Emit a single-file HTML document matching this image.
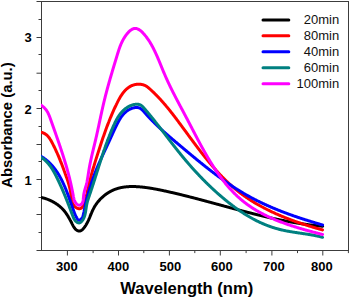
<!DOCTYPE html>
<html><head><meta charset="utf-8">
<style>
html,body{margin:0;padding:0;background:#fff;}
body{width:350px;height:298px;overflow:hidden;}
svg{display:block;}
text{font-family:"Liberation Sans",sans-serif;}
.tl{font-size:13px;font-weight:bold;fill:#000;}
.lg{font-size:13px;fill:#111;}
</style></head><body>
<svg width="350" height="298" viewBox="0 0 350 298">
<defs><clipPath id="pc"><rect x="41" y="0" width="308" height="298"/></clipPath></defs>
<rect x="41.5" y="1.5" width="307.0" height="249.0" fill="none" stroke="#3c3c3c" stroke-width="1"/>
<g stroke="#3c3c3c" stroke-width="1">
<line x1="38.50" y1="19.50" x2="41.50" y2="19.50"/>
<line x1="36.50" y1="37.50" x2="41.50" y2="37.50"/>
<line x1="38.50" y1="54.50" x2="41.50" y2="54.50"/>
<line x1="36.50" y1="73.20" x2="41.50" y2="73.20"/>
<line x1="38.50" y1="90.50" x2="41.50" y2="90.50"/>
<line x1="36.50" y1="108.50" x2="41.50" y2="108.50"/>
<line x1="38.50" y1="126.50" x2="41.50" y2="126.50"/>
<line x1="36.50" y1="144.50" x2="41.50" y2="144.50"/>
<line x1="38.50" y1="161.50" x2="41.50" y2="161.50"/>
<line x1="36.50" y1="179.50" x2="41.50" y2="179.50"/>
<line x1="38.50" y1="197.50" x2="41.50" y2="197.50"/>
<line x1="36.50" y1="214.50" x2="41.50" y2="214.50"/>
<line x1="38.50" y1="232.50" x2="41.50" y2="232.50"/>
<line x1="36.50" y1="250.50" x2="41.50" y2="250.50"/>
<line x1="36.50" y1="1.5" x2="41.50" y2="1.5"/>
<line x1="67.40" y1="250.50" x2="67.40" y2="255.50"/>
<line x1="93.10" y1="250.50" x2="93.10" y2="253.10"/>
<line x1="118.50" y1="250.50" x2="118.50" y2="255.50"/>
<line x1="143.80" y1="250.50" x2="143.80" y2="253.10"/>
<line x1="169.40" y1="250.50" x2="169.40" y2="255.50"/>
<line x1="194.80" y1="250.50" x2="194.80" y2="253.10"/>
<line x1="220.30" y1="250.50" x2="220.30" y2="255.50"/>
<line x1="246.10" y1="250.50" x2="246.10" y2="253.10"/>
<line x1="271.90" y1="250.50" x2="271.90" y2="255.50"/>
<line x1="297.50" y1="250.50" x2="297.50" y2="253.10"/>
<line x1="322.80" y1="250.50" x2="322.80" y2="255.50"/>
<line x1="348.40" y1="250.50" x2="348.40" y2="253.10"/>
</g>
<g fill="none" stroke-width="3.0" stroke-linejoin="round" stroke-linecap="round" clip-path="url(#pc)">
<path d="M40.66,197.41 L40.98,197.46 L41.29,197.51 L41.61,197.57 L41.93,197.64 L42.25,197.71 L42.58,197.78 L42.90,197.86 L43.23,197.94 L43.56,198.02 L43.89,198.11 L44.22,198.20 L44.55,198.30 L44.88,198.40 L45.22,198.50 L45.56,198.61 L45.89,198.72 L46.23,198.83 L46.57,198.95 L46.90,199.07 L47.24,199.20 L47.58,199.32 L47.92,199.46 L48.26,199.59 L48.60,199.73 L48.94,199.87 L49.28,200.02 L49.62,200.16 L49.96,200.31 L50.29,200.47 L50.63,200.63 L50.97,200.79 L51.30,200.95 L51.64,201.12 L51.97,201.29 L52.31,201.46 L52.64,201.63 L52.97,201.81 L53.30,201.99 L53.63,202.17 L53.95,202.36 L54.28,202.55 L54.60,202.74 L54.92,202.93 L55.24,203.13 L55.56,203.33 L55.87,203.53 L56.19,203.73 L56.50,203.94 L56.81,204.15 L57.11,204.36 L57.41,204.57 L57.71,204.79 L58.01,205.00 L58.30,205.22 L58.60,205.44 L58.88,205.67 L59.17,205.89 L59.45,206.12 L59.73,206.35 L60.00,206.58 L60.27,206.81 L60.54,207.05 L60.80,207.28 L61.06,207.52 L61.32,207.76 L61.57,208.01 L61.82,208.25 L62.07,208.49 L62.31,208.74 L62.55,208.99 L62.79,209.24 L63.02,209.50 L63.25,209.75 L63.48,210.01 L63.70,210.27 L63.93,210.53 L64.15,210.79 L64.36,211.05 L64.58,211.32 L64.79,211.58 L65.00,211.85 L65.21,212.12 L65.41,212.40 L65.61,212.67 L65.81,212.95 L66.01,213.23 L66.21,213.51 L66.41,213.79 L66.60,214.07 L66.79,214.36 L66.98,214.64 L67.17,214.93 L67.35,215.22 L67.54,215.52 L67.72,215.81 L67.91,216.11 L68.09,216.40 L68.27,216.70 L68.45,217.01 L68.62,217.31 L68.80,217.61 L68.98,217.92 L69.15,218.23 L69.33,218.54 L69.50,218.85 L69.68,219.17 L69.85,219.48 L70.02,219.80 L70.19,220.12 L70.37,220.44 L70.54,220.77 L70.71,221.09 L70.88,221.42 L71.05,221.75 L71.22,222.08 L71.40,222.41 L71.57,222.74 L71.74,223.08 L71.91,223.42 L72.08,223.76 L72.26,224.10 L72.43,224.44 L72.61,224.78 L72.79,225.13 L72.96,225.47 L73.15,225.81 L73.33,226.14 L73.52,226.47 L73.72,226.80 L73.92,227.13 L74.12,227.44 L74.33,227.75 L74.54,228.05 L74.77,228.34 L75.00,228.63 L75.23,228.90 L75.48,229.16 L75.73,229.41 L76.00,229.65 L76.27,229.87 L76.56,230.08 L76.85,230.27 L77.15,230.45 L77.47,230.60 L77.79,230.74 L78.12,230.85 L78.44,230.94 L78.77,231.01 L79.10,231.04 L79.42,231.04 L79.74,231.01 L80.05,230.96 L80.36,230.87 L80.66,230.76 L80.96,230.62 L81.25,230.46 L81.53,230.28 L81.81,230.08 L82.09,229.86 L82.36,229.62 L82.63,229.38 L82.89,229.12 L83.14,228.85 L83.39,228.56 L83.64,228.28 L83.87,227.98 L84.11,227.69 L84.34,227.39 L84.56,227.09 L84.78,226.79 L85.00,226.48 L85.21,226.18 L85.41,225.87 L85.62,225.56 L85.81,225.25 L86.01,224.94 L86.20,224.63 L86.38,224.31 L86.56,224.00 L86.74,223.68 L86.92,223.36 L87.09,223.05 L87.26,222.73 L87.42,222.41 L87.59,222.08 L87.75,221.76 L87.91,221.44 L88.06,221.11 L88.21,220.79 L88.36,220.46 L88.51,220.14 L88.66,219.81 L88.80,219.48 L88.95,219.15 L89.09,218.83 L89.23,218.50 L89.37,218.17 L89.51,217.84 L89.64,217.51 L89.78,217.18 L89.92,216.85 L90.05,216.52 L90.19,216.19 L90.32,215.86 L90.45,215.53 L90.59,215.20 L90.72,214.87 L90.85,214.54 L90.99,214.21 L91.12,213.88 L91.26,213.55 L91.40,213.22 L91.53,212.89 L91.67,212.57 L91.81,212.24 L91.95,211.91 L92.09,211.59 L92.24,211.26 L92.38,210.94 L92.53,210.62 L92.68,210.29 L92.83,209.97 L92.98,209.65 L93.14,209.33 L93.29,209.01 L93.45,208.70 L93.62,208.38 L93.78,208.06 L93.95,207.75 L94.12,207.44 L94.30,207.13 L94.48,206.82 L94.66,206.51 L94.84,206.20 L95.03,205.90 L95.22,205.59 L95.42,205.29 L95.61,204.99 L95.81,204.69 L96.02,204.39 L96.22,204.09 L96.43,203.80 L96.64,203.51 L96.86,203.22 L97.07,202.93 L97.29,202.64 L97.52,202.35 L97.74,202.07 L97.97,201.79 L98.20,201.51 L98.43,201.23 L98.67,200.95 L98.91,200.68 L99.15,200.40 L99.39,200.13 L99.64,199.86 L99.89,199.60 L100.14,199.33 L100.39,199.07 L100.65,198.81 L100.90,198.55 L101.16,198.29 L101.43,198.04 L101.69,197.79 L101.96,197.54 L102.23,197.29 L102.50,197.05 L102.77,196.80 L103.05,196.56 L103.32,196.32 L103.60,196.09 L103.89,195.86 L104.17,195.63 L104.45,195.40 L104.74,195.17 L105.03,194.95 L105.32,194.73 L105.61,194.51 L105.91,194.30 L106.21,194.08 L106.50,193.87 L106.80,193.67 L107.10,193.46 L107.41,193.26 L107.71,193.06 L108.02,192.86 L108.33,192.67 L108.64,192.48 L108.95,192.29 L109.26,192.11 L109.57,191.93 L109.89,191.75 L110.20,191.57 L110.52,191.40 L110.84,191.23 L111.16,191.06 L111.48,190.90 L111.81,190.74 L112.13,190.58 L112.46,190.43 L112.78,190.28 L113.11,190.13 L113.44,189.99 L113.77,189.85 L114.10,189.71 L114.43,189.57 L114.76,189.44 L115.10,189.32 L115.43,189.19 L115.77,189.07 L116.10,188.95 L116.44,188.84 L116.78,188.73 L117.12,188.62 L117.46,188.52 L117.80,188.41 L118.14,188.32 L118.48,188.22 L118.82,188.13 L119.17,188.04 L119.51,187.95 L119.86,187.87 L120.20,187.79 L120.55,187.71 L120.90,187.64 L121.24,187.56 L121.59,187.49 L121.94,187.43 L122.29,187.36 L122.64,187.30 L122.99,187.24 L123.34,187.19 L123.69,187.13 L124.05,187.08 L124.40,187.03 L124.75,186.99 L125.11,186.95 L125.46,186.90 L125.82,186.87 L126.17,186.83 L126.53,186.80 L126.88,186.76 L127.24,186.73 L127.60,186.71 L127.95,186.68 L128.31,186.66 L128.67,186.64 L129.03,186.62 L129.38,186.60 L129.74,186.59 L130.10,186.58 L130.46,186.57 L130.82,186.56 L131.18,186.55 L131.54,186.55 L131.90,186.54 L132.26,186.54 L132.62,186.54 L132.98,186.54 L133.34,186.55 L133.70,186.55 L134.06,186.56 L134.42,186.57 L134.78,186.58 L135.15,186.59 L135.51,186.61 L135.87,186.62 L136.23,186.64 L136.59,186.66 L136.95,186.68 L137.31,186.70 L137.67,186.72 L138.03,186.74 L138.39,186.77 L138.75,186.79 L139.11,186.82 L139.47,186.85 L139.83,186.88 L140.19,186.91 L140.55,186.94 L140.91,186.97 L141.27,187.00 L141.63,187.04 L141.99,187.07 L142.35,187.11 L142.71,187.15 L143.07,187.19 L143.42,187.23 L143.78,187.27 L144.14,187.31 L144.50,187.35 L144.85,187.39 L145.21,187.44 L145.57,187.48 L145.93,187.53 L146.28,187.58 L146.64,187.62 L147.00,187.67 L147.35,187.72 L147.71,187.77 L148.07,187.82 L148.42,187.88 L148.78,187.93 L149.13,187.98 L149.49,188.04 L149.84,188.09 L150.20,188.15 L150.55,188.20 L150.91,188.26 L151.26,188.32 L151.62,188.38 L151.97,188.44 L152.33,188.50 L152.68,188.56 L153.04,188.62 L153.39,188.68 L153.74,188.74 L154.10,188.81 L154.45,188.87 L154.81,188.94 L155.16,189.00 L155.51,189.07 L155.87,189.13 L156.22,189.20 L156.57,189.27 L156.93,189.33 L157.28,189.40 L157.63,189.47 L157.98,189.54 L158.34,189.61 L158.69,189.68 L159.04,189.75 L159.40,189.82 L159.75,189.89 L160.10,189.97 L160.45,190.04 L160.80,190.11 L161.16,190.18 L161.51,190.26 L161.86,190.33 L162.21,190.40 L162.56,190.48 L162.92,190.55 L163.27,190.63 L163.62,190.70 L163.97,190.78 L164.32,190.85 L164.67,190.93 L165.02,191.01 L165.38,191.08 L165.73,191.16 L166.08,191.24 L166.43,191.31 L166.78,191.39 L167.13,191.47 L167.48,191.55 L167.83,191.62 L168.18,191.70 L168.53,191.78 L168.88,191.86 L169.24,191.94 L169.59,192.02 L169.94,192.10 L170.29,192.18 L170.64,192.26 L170.99,192.34 L171.34,192.42 L171.69,192.50 L172.04,192.58 L172.39,192.66 L172.74,192.74 L173.09,192.82 L173.44,192.90 L173.79,192.98 L174.14,193.06 L174.49,193.15 L174.84,193.23 L175.19,193.31 L175.54,193.39 L175.89,193.48 L176.24,193.56 L176.59,193.64 L176.94,193.73 L177.29,193.81 L177.64,193.89 L177.99,193.98 L178.34,194.06 L178.68,194.14 L179.03,194.23 L179.38,194.31 L179.73,194.40 L180.08,194.48 L180.43,194.57 L180.78,194.65 L181.13,194.74 L181.48,194.82 L181.83,194.91 L182.18,194.99 L182.52,195.08 L182.87,195.17 L183.22,195.25 L183.57,195.34 L183.92,195.42 L184.27,195.51 L184.62,195.60 L184.97,195.68 L185.32,195.77 L185.66,195.86 L186.01,195.95 L186.36,196.03 L186.71,196.12 L187.06,196.21 L187.41,196.30 L187.75,196.39 L188.10,196.47 L188.45,196.56 L188.80,196.65 L189.15,196.74 L189.50,196.83 L189.84,196.92 L190.19,197.01 L190.54,197.09 L190.89,197.18 L191.24,197.27 L191.58,197.36 L191.93,197.45 L192.28,197.54 L192.63,197.63 L192.98,197.72 L193.32,197.81 L193.67,197.90 L194.02,197.99 L194.37,198.08 L194.72,198.17 L195.06,198.26 L195.41,198.35 L195.76,198.44 L196.11,198.54 L196.45,198.63 L196.80,198.72 L197.15,198.81 L197.50,198.90 L197.85,198.99 L198.19,199.08 L198.54,199.17 L198.89,199.27 L199.24,199.36 L199.58,199.45 L199.93,199.54 L200.28,199.63 L200.63,199.72 L200.97,199.82 L201.32,199.91 L201.67,200.00 L202.01,200.09 L202.36,200.19 L202.71,200.28 L203.06,200.37 L203.40,200.46 L203.75,200.56 L204.10,200.65 L204.45,200.74 L204.79,200.83 L205.14,200.93 L205.49,201.02 L205.83,201.11 L206.18,201.21 L206.53,201.30 L206.88,201.39 L207.22,201.49 L207.57,201.58 L207.92,201.67 L208.26,201.77 L208.61,201.86 L208.96,201.95 L209.30,202.05 L209.65,202.14 L210.00,202.23 L210.35,202.33 L210.69,202.42 L211.04,202.51 L211.39,202.61 L211.73,202.70 L212.08,202.80 L212.43,202.89 L212.77,202.98 L213.12,203.08 L213.47,203.17 L213.81,203.27 L214.16,203.36 L214.51,203.45 L214.85,203.55 L215.20,203.64 L215.55,203.74 L215.90,203.83 L216.24,203.92 L216.59,204.02 L216.94,204.11 L217.28,204.21 L217.63,204.30 L217.98,204.40 L218.32,204.49 L218.67,204.58 L219.02,204.68 L219.36,204.77 L219.71,204.87 L220.06,204.96 L220.40,205.05 L220.75,205.15 L221.10,205.24 L221.44,205.34 L221.79,205.43 L222.14,205.53 L222.48,205.62 L222.83,205.71 L223.18,205.81 L223.52,205.90 L223.87,206.00 L224.22,206.09 L224.56,206.18 L224.91,206.28 L225.26,206.37 L225.61,206.47 L225.95,206.56 L226.30,206.65 L226.65,206.75 L226.99,206.84 L227.34,206.93 L227.69,207.03 L228.03,207.12 L228.38,207.22 L228.73,207.31 L229.07,207.40 L229.42,207.50 L229.77,207.59 L230.11,207.68 L230.46,207.78 L230.81,207.87 L231.15,207.96 L231.50,208.06 L231.85,208.15 L232.20,208.24 L232.54,208.34 L232.89,208.43 L233.24,208.52 L233.58,208.62 L233.93,208.71 L234.28,208.80 L234.62,208.89 L234.97,208.99 L235.32,209.08 L235.67,209.17 L236.01,209.27 L236.36,209.36 L236.71,209.45 L237.05,209.54 L237.40,209.63 L237.75,209.73 L238.10,209.82 L238.44,209.91 L238.79,210.00 L239.14,210.09 L239.48,210.19 L239.83,210.28 L240.18,210.37 L240.53,210.46 L240.87,210.55 L241.22,210.64 L241.57,210.73 L241.92,210.83 L242.26,210.92 L242.61,211.01 L242.96,211.10 L243.31,211.19 L243.65,211.28 L244.00,211.37 L244.35,211.46 L244.70,211.55 L245.04,211.64 L245.39,211.73 L245.74,211.82 L246.09,211.91 L246.43,212.00 L246.78,212.09 L247.13,212.18 L247.48,212.27 L247.82,212.36 L248.17,212.45 L248.52,212.54 L248.87,212.63 L249.22,212.72 L249.56,212.80 L249.91,212.89 L250.26,212.98 L250.61,213.07 L250.96,213.16 L251.30,213.25 L251.65,213.33 L252.00,213.42 L252.35,213.51 L252.70,213.60 L253.04,213.68 L253.39,213.77 L253.74,213.86 L254.09,213.94 L254.44,214.03 L254.79,214.12 L255.13,214.20 L255.48,214.29 L255.83,214.38 L256.18,214.46 L256.53,214.55 L256.88,214.63 L257.22,214.72 L257.57,214.81 L257.92,214.89 L258.27,214.98 L258.62,215.06 L258.97,215.15 L259.32,215.23 L259.67,215.31 L260.01,215.40 L260.36,215.48 L260.71,215.57 L261.06,215.65 L261.41,215.73 L261.76,215.82 L262.11,215.90 L262.46,215.98 L262.81,216.07 L263.16,216.15 L263.51,216.23 L263.85,216.31 L264.20,216.40 L264.55,216.48 L264.90,216.56 L265.25,216.64 L265.60,216.72 L265.95,216.80 L266.30,216.88 L266.65,216.96 L267.00,217.05 L267.35,217.13 L267.70,217.21 L268.05,217.29 L268.40,217.37 L268.75,217.44 L269.10,217.52 L269.45,217.60 L269.80,217.68 L270.15,217.76 L270.50,217.84 L270.85,217.92 L271.20,218.00 L271.55,218.07 L271.90,218.15 L272.25,218.23 L272.60,218.31 L272.95,218.38 L273.30,218.46 L273.65,218.54 L274.00,218.61 L274.36,218.69 L274.71,218.76 L275.06,218.84 L275.41,218.91 L275.76,218.99 L276.11,219.06 L276.46,219.14 L276.81,219.21 L277.16,219.29 L277.51,219.36 L277.87,219.43 L278.22,219.51 L278.57,219.58 L278.92,219.65 L279.27,219.73 L279.62,219.80 L279.97,219.87 L280.33,219.94 L280.68,220.01 L281.03,220.09 L281.38,220.16 L281.73,220.23 L282.09,220.30 L282.44,220.37 L282.79,220.44 L283.14,220.51 L283.49,220.58 L283.85,220.65 L284.20,220.72 L284.55,220.78 L284.90,220.85 L285.26,220.92 L285.61,220.99 L285.96,221.06 L286.31,221.12 L286.67,221.19 L287.02,221.26 L287.37,221.32 L287.72,221.39 L288.08,221.46 L288.43,221.52 L288.78,221.59 L289.14,221.65 L289.49,221.72 L289.84,221.78 L290.20,221.85 L290.55,221.91 L290.90,221.97 L291.26,222.04 L291.61,222.10 L291.97,222.16 L292.32,222.22 L292.67,222.29 L293.03,222.35 L293.38,222.41 L293.74,222.47 L294.09,222.53 L294.44,222.59 L294.80,222.65 L295.15,222.71 L295.51,222.77 L295.86,222.83 L296.22,222.89 L296.57,222.95 L296.93,223.01 L297.28,223.06 L297.63,223.12 L297.99,223.18 L298.34,223.24 L298.70,223.29 L299.06,223.35 L299.41,223.40 L299.77,223.46 L300.12,223.52 L300.48,223.57 L300.83,223.62 L301.19,223.68 L301.54,223.73 L301.90,223.79 L302.26,223.84 L302.61,223.89 L302.97,223.94 L303.32,224.00 L303.68,224.05 L304.04,224.10 L304.39,224.15 L304.75,224.20 L305.11,224.25 L305.46,224.30 L305.82,224.35 L306.18,224.40 L306.53,224.45 L306.89,224.50 L307.25,224.55 L307.60,224.59 L307.96,224.64 L308.32,224.69 L308.68,224.74 L309.03,224.78 L309.39,224.83 L309.75,224.87 L310.11,224.92 L310.46,224.96 L310.82,225.01 L311.18,225.05 L311.54,225.10 L311.90,225.14 L312.25,225.18 L312.61,225.22 L312.97,225.27 L313.33,225.31 L313.69,225.35 L314.05,225.39 L314.41,225.43 L314.76,225.47 L315.12,225.51 L315.48,225.55 L315.84,225.59 L316.20,225.63 L316.56,225.67 L316.92,225.70 L317.28,225.74 L317.64,225.78 L318.00,225.82 L318.36,225.85 L318.72,225.89 L319.08,225.92 L319.44,225.96 L319.80,225.99 L320.16,226.03 L320.52,226.06 L320.88,226.09 L321.24,226.13 L321.60,226.16 L321.96,226.19 L322.32,226.22 L322.68,226.25" stroke="#000000"/>
<path d="M40.37,132.15 L40.97,132.26 L41.56,132.39 L42.12,132.54 L42.66,132.71 L43.18,132.90 L43.69,133.11 L44.17,133.34 L44.64,133.59 L45.09,133.86 L45.52,134.14 L45.94,134.44 L46.35,134.76 L46.74,135.09 L47.11,135.43 L47.48,135.79 L47.83,136.16 L48.17,136.54 L48.50,136.93 L48.82,137.33 L49.13,137.75 L49.43,138.17 L49.72,138.60 L50.01,139.03 L50.28,139.48 L50.56,139.92 L50.83,140.38 L51.09,140.83 L51.35,141.30 L51.60,141.76 L51.86,142.23 L52.11,142.69 L52.36,143.16 L52.60,143.63 L52.85,144.10 L53.09,144.58 L53.34,145.05 L53.58,145.52 L53.81,146.00 L54.05,146.48 L54.29,146.95 L54.52,147.43 L54.75,147.91 L54.98,148.39 L55.21,148.87 L55.44,149.35 L55.67,149.84 L55.89,150.32 L56.11,150.81 L56.33,151.29 L56.55,151.78 L56.77,152.26 L56.99,152.75 L57.21,153.24 L57.42,153.73 L57.63,154.22 L57.84,154.71 L58.06,155.20 L58.26,155.69 L58.47,156.18 L58.68,156.67 L58.89,157.16 L59.09,157.66 L59.29,158.15 L59.50,158.64 L59.70,159.14 L59.90,159.63 L60.10,160.12 L60.29,160.62 L60.49,161.11 L60.69,161.61 L60.88,162.10 L61.08,162.60 L61.27,163.09 L61.46,163.59 L61.65,164.08 L61.84,164.58 L62.03,165.07 L62.22,165.57 L62.41,166.06 L62.60,166.56 L62.78,167.05 L62.97,167.55 L63.16,168.04 L63.34,168.54 L63.52,169.03 L63.71,169.53 L63.89,170.02 L64.07,170.51 L64.25,171.01 L64.44,171.50 L64.62,171.99 L64.80,172.48 L64.98,172.97 L65.15,173.47 L65.33,173.96 L65.51,174.45 L65.69,174.94 L65.86,175.43 L66.04,175.92 L66.21,176.41 L66.39,176.90 L66.56,177.39 L66.73,177.88 L66.90,178.37 L67.06,178.86 L67.23,179.35 L67.39,179.85 L67.55,180.34 L67.71,180.83 L67.87,181.33 L68.03,181.83 L68.18,182.32 L68.33,182.82 L68.48,183.32 L68.63,183.82 L68.78,184.32 L68.92,184.83 L69.06,185.33 L69.19,185.84 L69.33,186.35 L69.46,186.86 L69.58,187.37 L69.71,187.88 L69.83,188.40 L69.95,188.92 L70.06,189.44 L70.17,189.96 L70.28,190.48 L70.38,191.01 L70.48,191.54 L70.58,192.07 L70.67,192.61 L70.76,193.14 L70.84,193.68 L70.92,194.22 L71.00,194.77 L71.07,195.32 L71.14,195.87 L71.20,196.42 L71.27,196.98 L71.34,197.53 L71.41,198.08 L71.49,198.63 L71.57,199.18 L71.66,199.72 L71.77,200.26 L71.88,200.79 L72.01,201.32 L72.16,201.84 L72.32,202.36 L72.50,202.86 L72.70,203.36 L72.92,203.84 L73.17,204.31 L73.44,204.78 L73.74,205.22 L74.07,205.66 L74.42,206.07 L74.80,206.47 L75.20,206.85 L75.61,207.20 L76.05,207.51 L76.49,207.80 L76.94,208.06 L77.40,208.27 L77.87,208.45 L78.33,208.58 L78.80,208.66 L79.26,208.70 L79.71,208.68 L80.16,208.61 L80.59,208.48 L81.01,208.29 L81.41,208.03 L81.79,207.71 L82.16,207.33 L82.50,206.91 L82.83,206.45 L83.14,205.95 L83.43,205.43 L83.70,204.89 L83.96,204.35 L84.20,203.81 L84.42,203.27 L84.63,202.74 L84.82,202.21 L85.01,201.69 L85.17,201.17 L85.33,200.65 L85.48,200.14 L85.62,199.63 L85.75,199.12 L85.87,198.61 L85.99,198.11 L86.10,197.60 L86.21,197.10 L86.31,196.59 L86.41,196.09 L86.51,195.59 L86.61,195.09 L86.71,194.58 L86.82,194.08 L86.92,193.57 L87.02,193.06 L87.13,192.55 L87.23,192.05 L87.34,191.54 L87.45,191.03 L87.55,190.52 L87.66,190.01 L87.77,189.49 L87.88,188.98 L88.00,188.47 L88.11,187.96 L88.22,187.44 L88.34,186.93 L88.46,186.42 L88.57,185.90 L88.69,185.39 L88.81,184.87 L88.93,184.36 L89.05,183.84 L89.18,183.33 L89.30,182.82 L89.43,182.30 L89.55,181.79 L89.68,181.27 L89.81,180.76 L89.94,180.24 L90.07,179.73 L90.20,179.22 L90.33,178.70 L90.46,178.19 L90.60,177.68 L90.73,177.16 L90.87,176.65 L91.01,176.14 L91.14,175.63 L91.28,175.12 L91.42,174.60 L91.56,174.09 L91.71,173.58 L91.85,173.07 L91.99,172.56 L92.14,172.05 L92.28,171.54 L92.43,171.03 L92.58,170.52 L92.72,170.02 L92.87,169.51 L93.02,169.00 L93.17,168.49 L93.32,167.98 L93.47,167.48 L93.62,166.97 L93.77,166.46 L93.93,165.96 L94.08,165.45 L94.23,164.95 L94.39,164.44 L94.54,163.93 L94.70,163.43 L94.85,162.93 L95.01,162.42 L95.16,161.92 L95.32,161.41 L95.48,160.91 L95.63,160.41 L95.79,159.90 L95.95,159.40 L96.11,158.90 L96.26,158.40 L96.42,157.90 L96.58,157.40 L96.74,156.90 L96.90,156.40 L97.06,155.90 L97.22,155.40 L97.38,154.90 L97.54,154.40 L97.70,153.90 L97.86,153.40 L98.02,152.90 L98.18,152.40 L98.34,151.91 L98.50,151.41 L98.66,150.91 L98.82,150.42 L98.98,149.92 L99.14,149.43 L99.30,148.93 L99.46,148.43 L99.62,147.94 L99.78,147.44 L99.94,146.95 L100.10,146.46 L100.26,145.96 L100.42,145.47 L100.58,144.98 L100.75,144.48 L100.91,143.99 L101.07,143.50 L101.23,143.00 L101.40,142.51 L101.56,142.02 L101.73,141.53 L101.89,141.04 L102.05,140.54 L102.22,140.05 L102.39,139.56 L102.55,139.07 L102.72,138.58 L102.88,138.09 L103.05,137.60 L103.22,137.11 L103.39,136.62 L103.56,136.13 L103.73,135.64 L103.90,135.15 L104.07,134.66 L104.24,134.17 L104.41,133.68 L104.58,133.19 L104.76,132.70 L104.93,132.21 L105.11,131.72 L105.28,131.24 L105.46,130.75 L105.63,130.26 L105.81,129.77 L105.99,129.28 L106.17,128.79 L106.35,128.30 L106.53,127.82 L106.71,127.33 L106.89,126.84 L107.07,126.35 L107.26,125.86 L107.44,125.37 L107.63,124.88 L107.82,124.40 L108.00,123.91 L108.19,123.42 L108.38,122.93 L108.57,122.44 L108.76,121.95 L108.96,121.47 L109.15,120.98 L109.34,120.49 L109.54,120.00 L109.74,119.51 L109.93,119.02 L110.13,118.53 L110.33,118.04 L110.53,117.55 L110.73,117.07 L110.94,116.58 L111.14,116.09 L111.35,115.60 L111.55,115.11 L111.76,114.62 L111.97,114.13 L112.18,113.64 L112.39,113.15 L112.61,112.66 L112.82,112.17 L113.04,111.68 L113.26,111.19 L113.47,110.69 L113.69,110.20 L113.91,109.71 L114.14,109.22 L114.36,108.73 L114.59,108.24 L114.81,107.74 L115.04,107.25 L115.27,106.76 L115.50,106.27 L115.74,105.77 L115.97,105.28 L116.21,104.79 L116.44,104.29 L116.68,103.80 L116.92,103.31 L117.17,102.82 L117.41,102.32 L117.66,101.83 L117.91,101.34 L118.16,100.86 L118.42,100.37 L118.67,99.89 L118.93,99.41 L119.20,98.93 L119.46,98.45 L119.73,97.98 L120.00,97.51 L120.28,97.05 L120.56,96.59 L120.84,96.13 L121.13,95.68 L121.42,95.23 L121.72,94.79 L122.02,94.35 L122.32,93.92 L122.63,93.49 L122.94,93.08 L123.26,92.66 L123.58,92.26 L123.90,91.86 L124.24,91.46 L124.57,91.08 L124.91,90.70 L125.26,90.33 L125.61,89.97 L125.97,89.61 L126.34,89.27 L126.71,88.93 L127.08,88.61 L127.47,88.29 L127.85,87.98 L128.25,87.68 L128.65,87.40 L129.06,87.12 L129.47,86.85 L129.89,86.60 L130.32,86.36 L130.76,86.12 L131.20,85.90 L131.65,85.69 L132.11,85.50 L132.57,85.31 L133.05,85.14 L133.53,84.98 L134.02,84.84 L134.51,84.71 L135.02,84.59 L135.53,84.49 L136.05,84.40 L136.57,84.33 L137.10,84.27 L137.63,84.23 L138.17,84.20 L138.70,84.19 L139.24,84.20 L139.78,84.22 L140.32,84.26 L140.85,84.32 L141.38,84.40 L141.91,84.49 L142.44,84.60 L142.96,84.74 L143.47,84.89 L143.97,85.06 L144.47,85.26 L144.96,85.47 L145.43,85.71 L145.90,85.96 L146.36,86.24 L146.81,86.53 L147.25,86.83 L147.68,87.15 L148.11,87.49 L148.53,87.83 L148.94,88.18 L149.35,88.53 L149.76,88.89 L150.17,89.26 L150.57,89.62 L150.97,89.99 L151.37,90.36 L151.76,90.73 L152.16,91.10 L152.55,91.47 L152.94,91.84 L153.33,92.21 L153.72,92.58 L154.10,92.96 L154.49,93.33 L154.87,93.71 L155.25,94.09 L155.63,94.47 L156.00,94.84 L156.38,95.22 L156.75,95.61 L157.12,95.99 L157.49,96.37 L157.86,96.75 L158.23,97.14 L158.59,97.52 L158.96,97.91 L159.32,98.30 L159.68,98.68 L160.04,99.07 L160.40,99.46 L160.75,99.85 L161.11,100.24 L161.46,100.63 L161.82,101.03 L162.17,101.42 L162.52,101.81 L162.86,102.21 L163.21,102.60 L163.56,103.00 L163.90,103.40 L164.25,103.79 L164.59,104.19 L164.93,104.59 L165.27,104.99 L165.61,105.39 L165.95,105.79 L166.29,106.19 L166.62,106.60 L166.96,107.00 L167.29,107.40 L167.62,107.81 L167.96,108.21 L168.29,108.62 L168.62,109.02 L168.95,109.43 L169.28,109.84 L169.60,110.25 L169.93,110.66 L170.26,111.06 L170.58,111.47 L170.91,111.89 L171.23,112.30 L171.56,112.71 L171.88,113.12 L172.20,113.53 L172.52,113.95 L172.84,114.36 L173.16,114.77 L173.48,115.19 L173.80,115.60 L174.12,116.02 L174.44,116.43 L174.76,116.85 L175.08,117.27 L175.39,117.69 L175.71,118.10 L176.03,118.52 L176.34,118.94 L176.66,119.36 L176.97,119.78 L177.29,120.20 L177.60,120.62 L177.92,121.04 L178.23,121.46 L178.55,121.88 L178.86,122.31 L179.18,122.73 L179.49,123.15 L179.80,123.57 L180.12,124.00 L180.43,124.42 L180.75,124.84 L181.06,125.27 L181.37,125.69 L181.69,126.12 L182.00,126.54 L182.31,126.97 L182.63,127.39 L182.94,127.82 L183.25,128.25 L183.57,128.67 L183.88,129.10 L184.20,129.53 L184.51,129.95 L184.82,130.38 L185.14,130.81 L185.45,131.23 L185.77,131.66 L186.08,132.09 L186.39,132.52 L186.71,132.94 L187.02,133.37 L187.34,133.80 L187.65,134.23 L187.97,134.66 L188.28,135.09 L188.60,135.51 L188.91,135.94 L189.23,136.37 L189.54,136.80 L189.86,137.23 L190.17,137.66 L190.49,138.08 L190.81,138.51 L191.12,138.94 L191.44,139.37 L191.76,139.80 L192.07,140.22 L192.39,140.65 L192.71,141.08 L193.03,141.51 L193.35,141.94 L193.66,142.36 L193.98,142.79 L194.30,143.22 L194.62,143.65 L194.94,144.07 L195.26,144.50 L195.58,144.93 L195.90,145.35 L196.22,145.78 L196.54,146.20 L196.86,146.63 L197.19,147.06 L197.51,147.48 L197.83,147.91 L198.15,148.33 L198.48,148.76 L198.80,149.18 L199.12,149.60 L199.45,150.03 L199.77,150.45 L200.10,150.87 L200.43,151.29 L200.75,151.72 L201.08,152.14 L201.40,152.56 L201.73,152.98 L202.06,153.40 L202.39,153.82 L202.72,154.24 L203.05,154.66 L203.38,155.08 L203.71,155.50 L204.04,155.92 L204.37,156.33 L204.70,156.75 L205.03,157.17 L205.37,157.58 L205.70,158.00 L206.03,158.41 L206.37,158.83 L206.70,159.24 L207.04,159.65 L207.37,160.07 L207.71,160.48 L208.05,160.89 L208.39,161.30 L208.73,161.71 L209.06,162.12 L209.40,162.53 L209.74,162.94 L210.09,163.35 L210.43,163.75 L210.77,164.16 L211.11,164.56 L211.46,164.97 L211.80,165.37 L212.15,165.78 L212.49,166.18 L212.84,166.58 L213.19,166.98 L213.53,167.38 L213.88,167.78 L214.23,168.18 L214.58,168.58 L214.93,168.98 L215.28,169.37 L215.64,169.77 L215.99,170.16 L216.34,170.56 L216.70,170.95 L217.05,171.34 L217.41,171.73 L217.77,172.13 L218.12,172.51 L218.48,172.90 L218.84,173.29 L219.20,173.68 L219.56,174.06 L219.92,174.45 L220.29,174.83 L220.65,175.21 L221.02,175.60 L221.38,175.98 L221.75,176.36 L222.11,176.74 L222.48,177.11 L222.85,177.49 L223.22,177.87 L223.59,178.24 L223.96,178.61 L224.34,178.99 L224.71,179.36 L225.08,179.73 L225.46,180.10 L225.84,180.47 L226.21,180.83 L226.59,181.20 L226.97,181.56 L227.35,181.93 L227.73,182.29 L228.11,182.65 L228.50,183.01 L228.88,183.37 L229.27,183.72 L229.65,184.08 L230.04,184.44 L230.43,184.79 L230.82,185.14 L231.21,185.49 L231.60,185.84 L232.00,186.19 L232.39,186.54 L232.78,186.88 L233.18,187.23 L233.58,187.57 L233.98,187.91 L234.38,188.25 L234.78,188.59 L235.18,188.93 L235.58,189.27 L235.98,189.60 L236.39,189.93 L236.80,190.27 L237.20,190.60 L237.61,190.92 L238.02,191.25 L238.43,191.58 L238.85,191.90 L239.26,192.23 L239.67,192.55 L240.09,192.87 L240.51,193.19 L240.93,193.50 L241.35,193.82 L241.77,194.13 L242.19,194.45 L242.61,194.76 L243.04,195.07 L243.46,195.37 L243.89,195.68 L244.32,195.99 L244.75,196.29 L245.18,196.59 L245.61,196.89 L246.04,197.19 L246.47,197.49 L246.91,197.79 L247.34,198.08 L247.78,198.38 L248.22,198.67 L248.66,198.96 L249.10,199.25 L249.54,199.54 L249.98,199.82 L250.42,200.11 L250.87,200.39 L251.31,200.67 L251.76,200.95 L252.21,201.23 L252.65,201.51 L253.10,201.79 L253.55,202.07 L254.00,202.34 L254.46,202.61 L254.91,202.88 L255.36,203.15 L255.82,203.42 L256.27,203.69 L256.73,203.96 L257.19,204.22 L257.65,204.49 L258.11,204.75 L258.57,205.01 L259.03,205.27 L259.49,205.53 L259.95,205.78 L260.41,206.04 L260.88,206.29 L261.34,206.55 L261.81,206.80 L262.28,207.05 L262.74,207.30 L263.21,207.55 L263.68,207.80 L264.15,208.04 L264.62,208.29 L265.09,208.53 L265.57,208.77 L266.04,209.01 L266.51,209.25 L266.99,209.49 L267.46,209.73 L267.94,209.97 L268.41,210.20 L268.89,210.43 L269.37,210.67 L269.85,210.90 L270.33,211.13 L270.81,211.36 L271.29,211.59 L271.77,211.81 L272.25,212.04 L272.73,212.26 L273.21,212.49 L273.70,212.71 L274.18,212.93 L274.67,213.15 L275.15,213.37 L275.64,213.59 L276.12,213.81 L276.61,214.02 L277.10,214.24 L277.59,214.45 L278.07,214.66 L278.56,214.87 L279.05,215.08 L279.54,215.29 L280.03,215.50 L280.52,215.71 L281.01,215.92 L281.51,216.12 L282.00,216.33 L282.49,216.53 L282.98,216.73 L283.48,216.93 L283.97,217.13 L284.47,217.33 L284.96,217.53 L285.46,217.73 L285.95,217.92 L286.45,218.12 L286.94,218.31 L287.44,218.50 L287.94,218.70 L288.43,218.89 L288.93,219.08 L289.43,219.27 L289.93,219.46 L290.43,219.64 L290.93,219.83 L291.42,220.02 L291.92,220.20 L292.42,220.38 L292.92,220.57 L293.42,220.75 L293.92,220.93 L294.42,221.11 L294.93,221.29 L295.43,221.47 L295.93,221.65 L296.43,221.82 L296.93,222.00 L297.43,222.17 L297.93,222.35 L298.44,222.52 L298.94,222.69 L299.44,222.86 L299.94,223.03 L300.45,223.20 L300.95,223.37 L301.45,223.54 L301.96,223.71 L302.46,223.88 L302.96,224.04 L303.47,224.21 L303.97,224.37 L304.47,224.53 L304.98,224.70 L305.48,224.86 L305.98,225.02 L306.49,225.18 L306.99,225.34 L307.49,225.50 L308.00,225.66 L308.50,225.81 L309.00,225.97 L309.51,226.13 L310.01,226.28 L310.51,226.43 L311.02,226.59 L311.52,226.74 L312.02,226.89 L312.53,227.04 L313.03,227.20 L313.53,227.35 L314.04,227.50 L314.54,227.64 L315.04,227.79 L315.54,227.94 L316.05,228.09 L316.55,228.23 L317.05,228.38 L317.55,228.52 L318.05,228.67 L318.56,228.81 L319.06,228.95 L319.56,229.10 L320.06,229.24 L320.56,229.38 L321.06,229.52 L321.56,229.66 L322.06,229.80 L322.56,229.94" stroke="#ff0000"/>
<path d="M40.85,156.23 L41.27,156.48 L41.68,156.73 L42.10,156.99 L42.50,157.25 L42.91,157.51 L43.31,157.78 L43.70,158.05 L44.09,158.33 L44.48,158.61 L44.87,158.89 L45.25,159.18 L45.62,159.47 L46.00,159.76 L46.37,160.06 L46.73,160.36 L47.09,160.66 L47.45,160.97 L47.81,161.28 L48.16,161.59 L48.50,161.91 L48.85,162.23 L49.19,162.55 L49.53,162.87 L49.86,163.20 L50.19,163.53 L50.52,163.87 L50.84,164.21 L51.17,164.55 L51.48,164.89 L51.80,165.24 L52.11,165.59 L52.42,165.94 L52.72,166.29 L53.02,166.65 L53.32,167.01 L53.62,167.37 L53.91,167.74 L54.20,168.10 L54.49,168.47 L54.78,168.85 L55.06,169.22 L55.34,169.60 L55.61,169.98 L55.89,170.36 L56.16,170.75 L56.43,171.13 L56.69,171.52 L56.95,171.91 L57.21,172.31 L57.47,172.70 L57.73,173.10 L57.98,173.50 L58.23,173.90 L58.48,174.30 L58.72,174.71 L58.97,175.12 L59.21,175.53 L59.45,175.94 L59.68,176.35 L59.92,176.77 L60.15,177.18 L60.38,177.60 L60.61,178.02 L60.83,178.44 L61.06,178.87 L61.28,179.29 L61.50,179.72 L61.71,180.14 L61.93,180.57 L62.14,181.00 L62.36,181.44 L62.57,181.87 L62.77,182.30 L62.98,182.74 L63.18,183.18 L63.39,183.61 L63.59,184.05 L63.79,184.49 L63.99,184.93 L64.18,185.38 L64.38,185.82 L64.57,186.27 L64.76,186.71 L64.95,187.16 L65.14,187.60 L65.33,188.05 L65.51,188.50 L65.70,188.95 L65.88,189.40 L66.07,189.85 L66.25,190.31 L66.43,190.76 L66.60,191.21 L66.78,191.66 L66.96,192.12 L67.13,192.57 L67.31,193.03 L67.48,193.48 L67.65,193.94 L67.82,194.39 L67.99,194.85 L68.16,195.31 L68.33,195.76 L68.50,196.22 L68.67,196.68 L68.83,197.14 L69.00,197.59 L69.16,198.05 L69.33,198.51 L69.49,198.97 L69.65,199.42 L69.82,199.88 L69.98,200.34 L70.14,200.79 L70.30,201.25 L70.46,201.71 L70.62,202.16 L70.78,202.62 L70.94,203.08 L71.10,203.53 L71.26,203.99 L71.41,204.44 L71.57,204.89 L71.73,205.35 L71.89,205.80 L72.04,206.25 L72.20,206.70 L72.36,207.16 L72.52,207.61 L72.67,208.05 L72.83,208.50 L72.99,208.95 L73.15,209.40 L73.30,209.84 L73.46,210.29 L73.62,210.73 L73.78,211.18 L73.94,211.62 L74.10,212.06 L74.27,212.50 L74.44,212.94 L74.61,213.38 L74.79,213.82 L74.98,214.26 L75.17,214.70 L75.36,215.14 L75.57,215.57 L75.78,216.01 L76.00,216.45 L76.23,216.88 L76.46,217.32 L76.71,217.76 L76.97,218.19 L77.24,218.63 L77.53,219.05 L77.82,219.44 L78.13,219.77 L78.46,220.04 L78.80,220.22 L79.16,220.29 L79.53,220.24 L79.91,220.09 L80.29,219.85 L80.67,219.55 L81.03,219.19 L81.37,218.80 L81.68,218.38 L81.96,217.95 L82.22,217.51 L82.45,217.06 L82.65,216.60 L82.84,216.13 L83.01,215.66 L83.16,215.18 L83.30,214.70 L83.43,214.21 L83.55,213.73 L83.67,213.25 L83.78,212.77 L83.88,212.29 L83.99,211.82 L84.08,211.34 L84.18,210.87 L84.27,210.40 L84.36,209.93 L84.45,209.46 L84.53,209.00 L84.62,208.53 L84.70,208.07 L84.79,207.61 L84.87,207.14 L84.96,206.68 L85.05,206.22 L85.14,205.76 L85.23,205.29 L85.32,204.83 L85.42,204.37 L85.52,203.90 L85.62,203.44 L85.73,202.97 L85.84,202.51 L85.95,202.05 L86.06,201.58 L86.17,201.12 L86.29,200.65 L86.41,200.18 L86.53,199.72 L86.65,199.25 L86.77,198.79 L86.90,198.32 L87.02,197.86 L87.15,197.39 L87.28,196.93 L87.41,196.46 L87.54,196.00 L87.67,195.53 L87.80,195.07 L87.93,194.61 L88.07,194.14 L88.20,193.68 L88.33,193.22 L88.47,192.75 L88.61,192.29 L88.74,191.83 L88.88,191.37 L89.02,190.91 L89.15,190.45 L89.29,189.98 L89.43,189.52 L89.57,189.06 L89.71,188.60 L89.85,188.15 L90.00,187.69 L90.14,187.23 L90.28,186.77 L90.43,186.31 L90.57,185.85 L90.72,185.40 L90.86,184.94 L91.01,184.48 L91.16,184.03 L91.31,183.57 L91.46,183.12 L91.61,182.66 L91.76,182.21 L91.91,181.75 L92.07,181.30 L92.22,180.84 L92.37,180.39 L92.53,179.94 L92.69,179.48 L92.84,179.03 L93.00,178.58 L93.16,178.13 L93.32,177.68 L93.48,177.23 L93.65,176.78 L93.81,176.33 L93.97,175.88 L94.14,175.43 L94.31,174.98 L94.47,174.53 L94.64,174.08 L94.81,173.64 L94.98,173.19 L95.15,172.74 L95.32,172.30 L95.50,171.85 L95.67,171.41 L95.85,170.96 L96.02,170.52 L96.20,170.07 L96.38,169.63 L96.56,169.18 L96.74,168.74 L96.92,168.30 L97.10,167.86 L97.29,167.41 L97.47,166.97 L97.66,166.53 L97.84,166.09 L98.03,165.65 L98.22,165.21 L98.40,164.77 L98.59,164.33 L98.78,163.89 L98.97,163.45 L99.16,163.01 L99.35,162.57 L99.55,162.14 L99.74,161.70 L99.93,161.26 L100.13,160.82 L100.32,160.39 L100.52,159.95 L100.71,159.51 L100.91,159.08 L101.11,158.64 L101.30,158.20 L101.50,157.77 L101.70,157.33 L101.90,156.90 L102.10,156.46 L102.29,156.03 L102.49,155.59 L102.69,155.16 L102.89,154.72 L103.09,154.29 L103.29,153.86 L103.50,153.42 L103.70,152.99 L103.90,152.56 L104.10,152.12 L104.30,151.69 L104.50,151.26 L104.70,150.82 L104.91,150.39 L105.11,149.96 L105.31,149.53 L105.51,149.09 L105.71,148.66 L105.92,148.23 L106.12,147.80 L106.32,147.36 L106.52,146.93 L106.72,146.50 L106.93,146.07 L107.13,145.64 L107.33,145.21 L107.53,144.77 L107.73,144.34 L107.93,143.91 L108.13,143.48 L108.33,143.05 L108.53,142.62 L108.73,142.18 L108.93,141.75 L109.13,141.32 L109.33,140.89 L109.53,140.46 L109.73,140.03 L109.93,139.60 L110.12,139.16 L110.32,138.73 L110.52,138.30 L110.71,137.87 L110.91,137.44 L111.10,137.01 L111.30,136.57 L111.49,136.14 L111.69,135.71 L111.88,135.28 L112.08,134.85 L112.27,134.41 L112.47,133.98 L112.66,133.55 L112.86,133.12 L113.06,132.69 L113.25,132.26 L113.45,131.82 L113.65,131.39 L113.84,130.96 L114.04,130.53 L114.24,130.10 L114.44,129.67 L114.64,129.24 L114.85,128.81 L115.05,128.37 L115.25,127.94 L115.46,127.51 L115.67,127.08 L115.87,126.65 L116.08,126.22 L116.29,125.79 L116.50,125.36 L116.72,124.93 L116.93,124.50 L117.15,124.07 L117.37,123.64 L117.59,123.21 L117.81,122.78 L118.03,122.36 L118.26,121.93 L118.49,121.51 L118.72,121.08 L118.96,120.66 L119.20,120.24 L119.44,119.82 L119.68,119.41 L119.93,119.00 L120.19,118.59 L120.44,118.18 L120.71,117.78 L120.97,117.38 L121.25,116.98 L121.52,116.59 L121.81,116.21 L122.10,115.82 L122.39,115.45 L122.69,115.07 L123.00,114.71 L123.31,114.34 L123.63,113.99 L123.95,113.64 L124.29,113.29 L124.62,112.96 L124.97,112.62 L125.33,112.30 L125.69,111.98 L126.06,111.67 L126.44,111.37 L126.83,111.08 L127.22,110.79 L127.63,110.51 L128.04,110.24 L128.46,109.98 L128.89,109.73 L129.33,109.49 L129.78,109.26 L130.24,109.04 L130.70,108.83 L131.17,108.63 L131.64,108.45 L132.12,108.28 L132.59,108.12 L133.07,107.98 L133.56,107.86 L134.04,107.75 L134.52,107.67 L135.00,107.60 L135.48,107.54 L135.95,107.51 L136.42,107.50 L136.89,107.51 L137.35,107.54 L137.80,107.60 L138.25,107.68 L138.69,107.78 L139.11,107.91 L139.53,108.06 L139.94,108.24 L140.34,108.45 L140.72,108.68 L141.10,108.94 L141.46,109.22 L141.82,109.52 L142.16,109.84 L142.50,110.17 L142.84,110.52 L143.17,110.87 L143.50,111.24 L143.82,111.60 L144.15,111.98 L144.47,112.35 L144.79,112.72 L145.12,113.09 L145.44,113.46 L145.77,113.83 L146.10,114.20 L146.43,114.56 L146.75,114.93 L147.08,115.29 L147.41,115.65 L147.75,116.01 L148.08,116.37 L148.41,116.73 L148.74,117.09 L149.08,117.44 L149.41,117.80 L149.74,118.15 L150.08,118.50 L150.42,118.85 L150.75,119.20 L151.09,119.55 L151.43,119.90 L151.77,120.25 L152.11,120.59 L152.45,120.94 L152.79,121.28 L153.13,121.62 L153.47,121.97 L153.81,122.31 L154.15,122.65 L154.50,122.99 L154.84,123.32 L155.19,123.66 L155.53,124.00 L155.88,124.33 L156.22,124.67 L156.57,125.00 L156.92,125.33 L157.26,125.66 L157.61,126.00 L157.96,126.33 L158.31,126.65 L158.66,126.98 L159.01,127.31 L159.36,127.64 L159.71,127.96 L160.06,128.29 L160.41,128.62 L160.76,128.94 L161.12,129.26 L161.47,129.59 L161.82,129.91 L162.18,130.23 L162.53,130.55 L162.89,130.87 L163.24,131.19 L163.60,131.51 L163.95,131.83 L164.31,132.15 L164.67,132.46 L165.02,132.78 L165.38,133.10 L165.74,133.41 L166.10,133.73 L166.45,134.04 L166.81,134.36 L167.17,134.67 L167.53,134.99 L167.89,135.30 L168.25,135.61 L168.61,135.92 L168.97,136.24 L169.33,136.55 L169.69,136.86 L170.06,137.17 L170.42,137.48 L170.78,137.79 L171.14,138.10 L171.50,138.41 L171.87,138.72 L172.23,139.03 L172.59,139.34 L172.95,139.65 L173.32,139.96 L173.68,140.27 L174.05,140.57 L174.41,140.88 L174.77,141.19 L175.14,141.50 L175.50,141.81 L175.87,142.11 L176.23,142.42 L176.60,142.73 L176.96,143.04 L177.33,143.34 L177.69,143.65 L178.06,143.96 L178.42,144.27 L178.79,144.57 L179.15,144.88 L179.52,145.19 L179.89,145.50 L180.25,145.80 L180.62,146.11 L180.99,146.42 L181.35,146.73 L181.72,147.03 L182.08,147.34 L182.45,147.65 L182.82,147.96 L183.18,148.26 L183.55,148.57 L183.92,148.88 L184.28,149.19 L184.65,149.50 L185.02,149.80 L185.39,150.11 L185.75,150.42 L186.12,150.73 L186.49,151.03 L186.86,151.34 L187.23,151.65 L187.59,151.96 L187.96,152.26 L188.33,152.57 L188.70,152.88 L189.07,153.19 L189.44,153.49 L189.80,153.80 L190.17,154.11 L190.54,154.41 L190.91,154.72 L191.28,155.03 L191.65,155.33 L192.02,155.64 L192.39,155.95 L192.76,156.25 L193.13,156.56 L193.50,156.87 L193.87,157.17 L194.24,157.48 L194.61,157.78 L194.99,158.09 L195.36,158.39 L195.73,158.70 L196.10,159.00 L196.47,159.31 L196.84,159.61 L197.22,159.92 L197.59,160.22 L197.96,160.53 L198.33,160.83 L198.71,161.13 L199.08,161.44 L199.45,161.74 L199.83,162.04 L200.20,162.35 L200.58,162.65 L200.95,162.95 L201.32,163.25 L201.70,163.55 L202.07,163.85 L202.45,164.16 L202.82,164.46 L203.20,164.76 L203.58,165.06 L203.95,165.36 L204.33,165.66 L204.70,165.96 L205.08,166.26 L205.46,166.56 L205.84,166.85 L206.21,167.15 L206.59,167.45 L206.97,167.75 L207.35,168.04 L207.73,168.34 L208.10,168.64 L208.48,168.93 L208.86,169.23 L209.24,169.53 L209.62,169.82 L210.00,170.12 L210.38,170.41 L210.76,170.70 L211.14,171.00 L211.53,171.29 L211.91,171.58 L212.29,171.88 L212.67,172.17 L213.05,172.46 L213.44,172.75 L213.82,173.04 L214.20,173.33 L214.59,173.62 L214.97,173.91 L215.35,174.20 L215.74,174.49 L216.12,174.78 L216.51,175.07 L216.89,175.35 L217.28,175.64 L217.67,175.93 L218.05,176.21 L218.44,176.50 L218.83,176.78 L219.21,177.07 L219.60,177.35 L219.99,177.63 L220.38,177.92 L220.77,178.20 L221.15,178.48 L221.54,178.76 L221.93,179.04 L222.32,179.32 L222.71,179.60 L223.11,179.88 L223.50,180.16 L223.89,180.44 L224.28,180.71 L224.67,180.99 L225.06,181.27 L225.46,181.54 L225.85,181.82 L226.24,182.09 L226.64,182.37 L227.03,182.64 L227.43,182.91 L227.82,183.18 L228.22,183.46 L228.61,183.73 L229.01,184.00 L229.41,184.27 L229.81,184.53 L230.20,184.80 L230.60,185.07 L231.00,185.34 L231.40,185.60 L231.80,185.87 L232.20,186.13 L232.60,186.40 L233.00,186.66 L233.40,186.92 L233.80,187.19 L234.20,187.45 L234.60,187.71 L235.01,187.97 L235.41,188.23 L235.81,188.49 L236.22,188.74 L236.62,189.00 L237.02,189.26 L237.43,189.51 L237.84,189.77 L238.24,190.02 L238.65,190.28 L239.06,190.53 L239.46,190.78 L239.87,191.03 L240.28,191.28 L240.69,191.53 L241.10,191.78 L241.51,192.03 L241.92,192.27 L242.33,192.52 L242.74,192.77 L243.15,193.01 L243.56,193.25 L243.97,193.50 L244.39,193.74 L244.80,193.98 L245.22,194.22 L245.63,194.46 L246.04,194.70 L246.46,194.94 L246.88,195.17 L247.29,195.41 L247.71,195.64 L248.13,195.88 L248.54,196.11 L248.96,196.35 L249.38,196.58 L249.80,196.81 L250.22,197.04 L250.64,197.27 L251.06,197.49 L251.49,197.72 L251.91,197.95 L252.33,198.17 L252.75,198.40 L253.18,198.62 L253.60,198.84 L254.03,199.07 L254.45,199.29 L254.88,199.51 L255.30,199.73 L255.73,199.94 L256.16,200.16 L256.58,200.38 L257.01,200.59 L257.44,200.81 L257.87,201.02 L258.30,201.24 L258.73,201.45 L259.16,201.66 L259.59,201.87 L260.02,202.08 L260.45,202.29 L260.88,202.50 L261.31,202.70 L261.75,202.91 L262.18,203.12 L262.61,203.32 L263.05,203.53 L263.48,203.73 L263.92,203.93 L264.35,204.13 L264.79,204.33 L265.22,204.53 L265.66,204.73 L266.10,204.93 L266.53,205.13 L266.97,205.33 L267.41,205.52 L267.85,205.72 L268.29,205.91 L268.73,206.11 L269.17,206.30 L269.61,206.49 L270.05,206.69 L270.49,206.88 L270.93,207.07 L271.37,207.26 L271.81,207.45 L272.25,207.63 L272.69,207.82 L273.14,208.01 L273.58,208.20 L274.02,208.38 L274.47,208.57 L274.91,208.75 L275.35,208.93 L275.80,209.12 L276.24,209.30 L276.69,209.48 L277.13,209.66 L277.58,209.84 L278.03,210.02 L278.47,210.20 L278.92,210.38 L279.36,210.55 L279.81,210.73 L280.26,210.91 L280.71,211.08 L281.15,211.26 L281.60,211.43 L282.05,211.60 L282.50,211.78 L282.95,211.95 L283.40,212.12 L283.85,212.29 L284.30,212.46 L284.75,212.63 L285.20,212.80 L285.65,212.97 L286.10,213.14 L286.55,213.30 L287.00,213.47 L287.45,213.64 L287.90,213.80 L288.36,213.97 L288.81,214.13 L289.26,214.30 L289.71,214.46 L290.16,214.62 L290.62,214.79 L291.07,214.95 L291.52,215.11 L291.98,215.27 L292.43,215.43 L292.88,215.59 L293.34,215.75 L293.79,215.91 L294.25,216.06 L294.70,216.22 L295.16,216.38 L295.61,216.53 L296.06,216.69 L296.52,216.85 L296.97,217.00 L297.43,217.16 L297.89,217.31 L298.34,217.46 L298.80,217.62 L299.25,217.77 L299.71,217.92 L300.16,218.07 L300.62,218.22 L301.08,218.37 L301.53,218.52 L301.99,218.67 L302.45,218.82 L302.90,218.97 L303.36,219.12 L303.82,219.27 L304.27,219.41 L304.73,219.56 L305.19,219.71 L305.64,219.85 L306.10,220.00 L306.56,220.15 L307.02,220.29 L307.47,220.43 L307.93,220.58 L308.39,220.72 L308.85,220.87 L309.30,221.01 L309.76,221.15 L310.22,221.29 L310.68,221.44 L311.14,221.58 L311.59,221.72 L312.05,221.86 L312.51,222.00 L312.97,222.14 L313.43,222.28 L313.88,222.42 L314.34,222.56 L314.80,222.69 L315.26,222.83 L315.72,222.97 L316.17,223.11 L316.63,223.24 L317.09,223.38 L317.55,223.52 L318.01,223.65 L318.46,223.79 L318.92,223.93 L319.38,224.06 L319.84,224.20 L320.30,224.33 L320.75,224.46 L321.21,224.60 L321.67,224.73 L322.13,224.87 L322.58,225.00" stroke="#0000ff"/>
<path d="M40.77,157.15 L41.19,157.40 L41.60,157.66 L42.01,157.92 L42.41,158.19 L42.80,158.47 L43.19,158.76 L43.58,159.05 L43.96,159.35 L44.33,159.66 L44.70,159.98 L45.06,160.30 L45.42,160.62 L45.78,160.96 L46.13,161.30 L46.47,161.64 L46.81,161.99 L47.15,162.35 L47.48,162.71 L47.81,163.08 L48.13,163.45 L48.45,163.83 L48.76,164.21 L49.07,164.60 L49.38,164.99 L49.68,165.39 L49.98,165.79 L50.28,166.19 L50.57,166.60 L50.86,167.02 L51.14,167.43 L51.43,167.85 L51.70,168.28 L51.98,168.70 L52.25,169.13 L52.52,169.57 L52.79,170.00 L53.05,170.44 L53.31,170.88 L53.57,171.33 L53.82,171.77 L54.07,172.22 L54.32,172.67 L54.57,173.12 L54.81,173.57 L55.05,174.03 L55.29,174.49 L55.53,174.94 L55.77,175.40 L56.00,175.86 L56.23,176.32 L56.46,176.78 L56.69,177.25 L56.92,177.71 L57.14,178.17 L57.37,178.63 L57.59,179.10 L57.81,179.56 L58.03,180.02 L58.25,180.48 L58.47,180.94 L58.68,181.40 L58.90,181.86 L59.11,182.32 L59.32,182.78 L59.53,183.24 L59.75,183.70 L59.95,184.15 L60.16,184.61 L60.37,185.07 L60.58,185.53 L60.78,185.98 L60.99,186.44 L61.19,186.90 L61.39,187.35 L61.59,187.81 L61.79,188.27 L61.99,188.72 L62.19,189.18 L62.39,189.63 L62.59,190.09 L62.79,190.55 L62.98,191.00 L63.18,191.46 L63.37,191.91 L63.56,192.37 L63.76,192.83 L63.95,193.28 L64.14,193.74 L64.33,194.20 L64.52,194.65 L64.71,195.11 L64.90,195.57 L65.09,196.03 L65.27,196.48 L65.46,196.94 L65.65,197.40 L65.83,197.86 L66.02,198.32 L66.21,198.78 L66.39,199.24 L66.57,199.70 L66.76,200.16 L66.94,200.62 L67.12,201.08 L67.31,201.55 L67.49,202.01 L67.67,202.47 L67.85,202.94 L68.03,203.40 L68.22,203.87 L68.40,204.34 L68.58,204.80 L68.76,205.27 L68.94,205.74 L69.12,206.21 L69.30,206.68 L69.48,207.15 L69.66,207.63 L69.84,208.10 L70.01,208.57 L70.19,209.05 L70.37,209.52 L70.55,210.00 L70.73,210.48 L70.91,210.96 L71.09,211.44 L71.27,211.92 L71.45,212.40 L71.63,212.88 L71.81,213.37 L71.99,213.85 L72.17,214.34 L72.34,214.83 L72.52,215.32 L72.71,215.80 L72.89,216.29 L73.08,216.78 L73.28,217.26 L73.48,217.73 L73.70,218.20 L73.93,218.65 L74.17,219.10 L74.43,219.53 L74.71,219.96 L75.00,220.36 L75.32,220.75 L75.66,221.12 L76.03,221.47 L76.42,221.81 L76.84,222.11 L77.28,222.39 L77.74,222.62 L78.21,222.79 L78.67,222.88 L79.13,222.90 L79.58,222.82 L80.01,222.66 L80.42,222.42 L80.82,222.14 L81.20,221.80 L81.56,221.44 L81.90,221.06 L82.22,220.67 L82.53,220.26 L82.81,219.85 L83.07,219.43 L83.32,219.00 L83.56,218.55 L83.78,218.10 L83.98,217.64 L84.17,217.18 L84.35,216.71 L84.51,216.23 L84.67,215.74 L84.81,215.25 L84.94,214.75 L85.07,214.25 L85.19,213.74 L85.29,213.23 L85.40,212.71 L85.49,212.20 L85.58,211.68 L85.67,211.15 L85.75,210.63 L85.84,210.10 L85.91,209.58 L85.99,209.05 L86.07,208.53 L86.15,208.00 L86.22,207.48 L86.30,206.95 L86.39,206.43 L86.47,205.92 L86.56,205.40 L86.66,204.89 L86.76,204.38 L86.87,203.88 L86.98,203.38 L87.10,202.88 L87.22,202.39 L87.35,201.90 L87.49,201.41 L87.62,200.92 L87.76,200.44 L87.91,199.96 L88.06,199.49 L88.21,199.01 L88.36,198.54 L88.51,198.07 L88.67,197.59 L88.83,197.12 L88.99,196.66 L89.15,196.19 L89.31,195.72 L89.47,195.25 L89.63,194.78 L89.79,194.32 L89.96,193.85 L90.11,193.38 L90.27,192.91 L90.43,192.44 L90.59,191.97 L90.75,191.50 L90.91,191.03 L91.06,190.56 L91.22,190.09 L91.38,189.62 L91.53,189.15 L91.69,188.68 L91.84,188.21 L92.00,187.74 L92.15,187.27 L92.31,186.80 L92.46,186.33 L92.61,185.85 L92.77,185.38 L92.92,184.91 L93.07,184.44 L93.23,183.96 L93.38,183.49 L93.53,183.02 L93.68,182.55 L93.83,182.07 L93.99,181.60 L94.14,181.12 L94.29,180.65 L94.44,180.18 L94.59,179.70 L94.74,179.23 L94.89,178.75 L95.04,178.28 L95.19,177.80 L95.34,177.33 L95.49,176.85 L95.64,176.38 L95.79,175.90 L95.94,175.43 L96.09,174.95 L96.24,174.48 L96.39,174.00 L96.54,173.53 L96.69,173.05 L96.84,172.57 L96.99,172.10 L97.14,171.62 L97.29,171.14 L97.44,170.67 L97.59,170.19 L97.74,169.72 L97.89,169.24 L98.04,168.76 L98.19,168.28 L98.35,167.81 L98.50,167.33 L98.65,166.85 L98.80,166.38 L98.95,165.90 L99.10,165.42 L99.25,164.94 L99.41,164.47 L99.56,163.99 L99.71,163.51 L99.86,163.03 L100.02,162.56 L100.17,162.08 L100.32,161.60 L100.48,161.12 L100.63,160.65 L100.79,160.17 L100.94,159.69 L101.10,159.21 L101.25,158.74 L101.41,158.26 L101.56,157.78 L101.72,157.30 L101.88,156.83 L102.03,156.35 L102.19,155.87 L102.35,155.39 L102.51,154.91 L102.67,154.44 L102.83,153.96 L102.99,153.48 L103.15,153.00 L103.31,152.53 L103.47,152.05 L103.63,151.57 L103.79,151.09 L103.96,150.62 L104.12,150.14 L104.29,149.66 L104.45,149.18 L104.62,148.71 L104.78,148.23 L104.95,147.75 L105.12,147.28 L105.28,146.80 L105.45,146.32 L105.62,145.85 L105.79,145.37 L105.96,144.89 L106.13,144.42 L106.31,143.94 L106.48,143.46 L106.65,142.99 L106.83,142.51 L107.00,142.03 L107.18,141.56 L107.35,141.08 L107.53,140.61 L107.71,140.13 L107.89,139.66 L108.06,139.18 L108.25,138.70 L108.43,138.23 L108.61,137.75 L108.79,137.28 L108.98,136.81 L109.16,136.33 L109.35,135.86 L109.53,135.38 L109.72,134.91 L109.91,134.43 L110.10,133.96 L110.29,133.49 L110.48,133.01 L110.67,132.54 L110.86,132.07 L111.06,131.59 L111.25,131.12 L111.45,130.65 L111.64,130.18 L111.84,129.70 L112.04,129.23 L112.24,128.76 L112.44,128.29 L112.65,127.82 L112.85,127.35 L113.05,126.87 L113.26,126.40 L113.47,125.93 L113.68,125.47 L113.89,125.00 L114.10,124.53 L114.32,124.07 L114.53,123.60 L114.75,123.14 L114.98,122.68 L115.20,122.22 L115.43,121.77 L115.66,121.31 L115.89,120.86 L116.13,120.41 L116.36,119.96 L116.61,119.52 L116.85,119.08 L117.10,118.64 L117.35,118.21 L117.61,117.77 L117.87,117.35 L118.14,116.92 L118.41,116.50 L118.68,116.08 L118.96,115.67 L119.24,115.26 L119.52,114.86 L119.82,114.46 L120.11,114.07 L120.41,113.68 L120.72,113.29 L121.03,112.91 L121.35,112.54 L121.67,112.17 L122.00,111.80 L122.33,111.45 L122.67,111.09 L123.02,110.75 L123.37,110.41 L123.73,110.07 L124.09,109.75 L124.47,109.43 L124.84,109.11 L125.23,108.81 L125.62,108.51 L126.02,108.21 L126.42,107.93 L126.84,107.65 L127.26,107.38 L127.69,107.12 L128.12,106.86 L128.57,106.62 L129.02,106.38 L129.48,106.15 L129.94,105.93 L130.42,105.71 L130.90,105.51 L131.39,105.32 L131.89,105.14 L132.39,104.97 L132.89,104.81 L133.39,104.67 L133.90,104.55 L134.41,104.44 L134.92,104.36 L135.42,104.29 L135.92,104.24 L136.42,104.21 L136.91,104.20 L137.40,104.22 L137.88,104.26 L138.36,104.33 L138.82,104.43 L139.28,104.55 L139.72,104.70 L140.16,104.88 L140.58,105.09 L140.98,105.33 L141.38,105.60 L141.77,105.90 L142.14,106.21 L142.51,106.54 L142.87,106.89 L143.23,107.26 L143.58,107.63 L143.92,108.02 L144.27,108.41 L144.61,108.80 L144.94,109.19 L145.28,109.58 L145.62,109.98 L145.96,110.37 L146.29,110.76 L146.63,111.16 L146.96,111.55 L147.29,111.95 L147.62,112.34 L147.96,112.74 L148.29,113.13 L148.62,113.53 L148.94,113.92 L149.27,114.32 L149.60,114.71 L149.93,115.11 L150.25,115.50 L150.58,115.90 L150.90,116.30 L151.22,116.69 L151.55,117.09 L151.87,117.49 L152.19,117.88 L152.51,118.28 L152.83,118.68 L153.15,119.07 L153.47,119.47 L153.79,119.87 L154.11,120.27 L154.42,120.66 L154.74,121.06 L155.06,121.46 L155.37,121.86 L155.69,122.25 L156.00,122.65 L156.31,123.05 L156.63,123.45 L156.94,123.85 L157.25,124.25 L157.57,124.64 L157.88,125.04 L158.19,125.44 L158.50,125.84 L158.81,126.24 L159.12,126.64 L159.43,127.04 L159.74,127.43 L160.05,127.83 L160.36,128.23 L160.67,128.63 L160.97,129.03 L161.28,129.43 L161.59,129.83 L161.90,130.23 L162.21,130.62 L162.51,131.02 L162.82,131.42 L163.13,131.82 L163.43,132.22 L163.74,132.62 L164.04,133.02 L164.35,133.41 L164.66,133.81 L164.96,134.21 L165.27,134.61 L165.57,135.01 L165.88,135.41 L166.18,135.80 L166.49,136.20 L166.79,136.60 L167.10,137.00 L167.40,137.40 L167.71,137.79 L168.01,138.19 L168.32,138.59 L168.62,138.99 L168.93,139.38 L169.23,139.78 L169.54,140.18 L169.84,140.58 L170.15,140.97 L170.46,141.37 L170.76,141.77 L171.07,142.16 L171.37,142.56 L171.68,142.95 L171.99,143.35 L172.29,143.75 L172.60,144.14 L172.91,144.54 L173.21,144.93 L173.52,145.33 L173.83,145.72 L174.14,146.12 L174.44,146.51 L174.75,146.91 L175.06,147.30 L175.37,147.69 L175.68,148.09 L175.99,148.48 L176.30,148.87 L176.61,149.27 L176.92,149.66 L177.23,150.05 L177.55,150.44 L177.86,150.84 L178.17,151.23 L178.48,151.62 L178.80,152.01 L179.11,152.40 L179.43,152.79 L179.74,153.18 L180.06,153.57 L180.37,153.96 L180.69,154.35 L181.01,154.74 L181.33,155.13 L181.64,155.52 L181.96,155.91 L182.28,156.30 L182.60,156.68 L182.92,157.07 L183.24,157.46 L183.57,157.85 L183.89,158.23 L184.21,158.62 L184.53,159.00 L184.86,159.39 L185.18,159.77 L185.51,160.16 L185.83,160.54 L186.16,160.93 L186.49,161.31 L186.81,161.69 L187.14,162.08 L187.47,162.46 L187.80,162.84 L188.13,163.22 L188.46,163.61 L188.79,163.99 L189.12,164.37 L189.45,164.75 L189.78,165.13 L190.12,165.51 L190.45,165.89 L190.78,166.26 L191.12,166.64 L191.45,167.02 L191.79,167.40 L192.12,167.78 L192.46,168.15 L192.80,168.53 L193.13,168.90 L193.47,169.28 L193.81,169.65 L194.15,170.03 L194.49,170.40 L194.83,170.77 L195.17,171.15 L195.51,171.52 L195.86,171.89 L196.20,172.26 L196.54,172.63 L196.89,173.00 L197.23,173.37 L197.58,173.74 L197.92,174.11 L198.27,174.48 L198.61,174.85 L198.96,175.22 L199.31,175.58 L199.66,175.95 L200.01,176.32 L200.36,176.68 L200.71,177.05 L201.06,177.41 L201.41,177.77 L201.76,178.14 L202.11,178.50 L202.47,178.86 L202.82,179.22 L203.17,179.58 L203.53,179.94 L203.88,180.30 L204.24,180.66 L204.60,181.02 L204.95,181.38 L205.31,181.74 L205.67,182.09 L206.03,182.45 L206.39,182.80 L206.75,183.16 L207.11,183.51 L207.47,183.87 L207.83,184.22 L208.19,184.57 L208.56,184.93 L208.92,185.28 L209.28,185.63 L209.65,185.98 L210.01,186.33 L210.38,186.68 L210.75,187.02 L211.11,187.37 L211.48,187.72 L211.85,188.06 L212.22,188.41 L212.59,188.75 L212.96,189.10 L213.33,189.44 L213.70,189.78 L214.07,190.13 L214.44,190.47 L214.81,190.81 L215.19,191.15 L215.56,191.49 L215.94,191.83 L216.31,192.16 L216.69,192.50 L217.06,192.84 L217.44,193.17 L217.82,193.51 L218.20,193.84 L218.58,194.18 L218.96,194.51 L219.34,194.84 L219.72,195.17 L220.10,195.50 L220.48,195.83 L220.86,196.16 L221.24,196.49 L221.63,196.82 L222.01,197.14 L222.40,197.47 L222.78,197.79 L223.17,198.12 L223.56,198.44 L223.94,198.76 L224.33,199.09 L224.72,199.41 L225.11,199.73 L225.50,200.05 L225.89,200.36 L226.28,200.68 L226.67,201.00 L227.06,201.32 L227.46,201.63 L227.85,201.94 L228.24,202.26 L228.64,202.57 L229.03,202.88 L229.43,203.19 L229.82,203.50 L230.22,203.81 L230.62,204.12 L231.02,204.43 L231.42,204.73 L231.82,205.04 L232.22,205.34 L232.62,205.64 L233.02,205.95 L233.42,206.25 L233.83,206.55 L234.23,206.84 L234.64,207.14 L235.04,207.44 L235.45,207.73 L235.85,208.03 L236.26,208.32 L236.67,208.61 L237.08,208.90 L237.49,209.19 L237.90,209.48 L238.31,209.77 L238.72,210.05 L239.13,210.34 L239.55,210.62 L239.96,210.90 L240.38,211.19 L240.79,211.47 L241.21,211.74 L241.62,212.02 L242.04,212.30 L242.46,212.57 L242.88,212.84 L243.30,213.12 L243.72,213.39 L244.14,213.66 L244.56,213.92 L244.99,214.19 L245.41,214.46 L245.84,214.72 L246.26,214.98 L246.69,215.24 L247.11,215.50 L247.54,215.76 L247.97,216.02 L248.40,216.27 L248.83,216.52 L249.26,216.78 L249.69,217.03 L250.13,217.27 L250.56,217.52 L251.00,217.77 L251.43,218.01 L251.87,218.25 L252.30,218.49 L252.74,218.73 L253.18,218.97 L253.62,219.21 L254.06,219.44 L254.50,219.67 L254.94,219.91 L255.39,220.13 L255.83,220.36 L256.28,220.59 L256.72,220.81 L257.17,221.04 L257.62,221.26 L258.06,221.47 L258.51,221.69 L258.96,221.91 L259.42,222.12 L259.87,222.33 L260.32,222.54 L260.77,222.75 L261.23,222.96 L261.69,223.16 L262.14,223.36 L262.60,223.57 L263.06,223.76 L263.52,223.96 L263.98,224.16 L264.44,224.35 L264.90,224.54 L265.36,224.73 L265.83,224.92 L266.29,225.10 L266.76,225.29 L267.23,225.47 L267.70,225.65 L268.17,225.82 L268.64,226.00 L269.11,226.17 L269.58,226.34 L270.05,226.51 L270.53,226.68 L271.00,226.84 L271.48,227.01 L271.95,227.17 L272.43,227.33 L272.91,227.48 L273.39,227.64 L273.87,227.79 L274.35,227.94 L274.84,228.09 L275.32,228.23 L275.81,228.38 L276.29,228.52 L276.78,228.66 L277.27,228.79 L277.76,228.93 L278.25,229.06 L278.74,229.19 L279.23,229.31 L279.73,229.44 L280.22,229.56 L280.72,229.68 L281.22,229.80 L281.71,229.92 L282.21,230.03 L282.71,230.14 L283.21,230.25 L283.71,230.36 L284.22,230.47 L284.72,230.57 L285.22,230.67 L285.73,230.78 L286.23,230.87 L286.74,230.97 L287.24,231.07 L287.75,231.16 L288.26,231.26 L288.77,231.35 L289.27,231.44 L289.78,231.53 L290.29,231.61 L290.80,231.70 L291.31,231.79 L291.82,231.87 L292.33,231.95 L292.84,232.04 L293.35,232.12 L293.86,232.20 L294.38,232.28 L294.89,232.36 L295.40,232.44 L295.91,232.52 L296.42,232.59 L296.93,232.67 L297.44,232.75 L297.95,232.82 L298.46,232.90 L298.97,232.97 L299.48,233.05 L299.99,233.12 L300.50,233.20 L301.01,233.27 L301.52,233.35 L302.03,233.42 L302.54,233.50 L303.05,233.57 L303.55,233.65 L304.06,233.72 L304.57,233.80 L305.07,233.88 L305.58,233.95 L306.08,234.03 L306.58,234.11 L307.09,234.19 L307.59,234.27 L308.09,234.35 L308.59,234.43 L309.09,234.51 L309.59,234.59 L310.08,234.67 L310.58,234.76 L311.08,234.84 L311.57,234.93 L312.06,235.01 L312.56,235.10 L313.05,235.19 L313.54,235.28 L314.03,235.38 L314.51,235.47 L315.00,235.56 L315.48,235.66 L315.97,235.76 L316.45,235.86 L316.93,235.96 L317.41,236.06 L317.89,236.17 L318.36,236.28 L318.84,236.39 L319.31,236.50 L319.78,236.61 L320.25,236.72 L320.72,236.84 L321.19,236.96 L321.65,237.08 L322.11,237.21 L322.57,237.33" stroke="#008080"/>
<path d="M40.34,104.86 L40.98,105.22 L41.59,105.59 L42.17,105.98 L42.72,106.39 L43.25,106.82 L43.76,107.26 L44.24,107.71 L44.69,108.18 L45.13,108.66 L45.55,109.15 L45.94,109.66 L46.32,110.18 L46.68,110.71 L47.02,111.25 L47.35,111.79 L47.66,112.35 L47.96,112.92 L48.25,113.49 L48.53,114.08 L48.79,114.67 L49.05,115.26 L49.30,115.86 L49.54,116.47 L49.77,117.08 L50.00,117.69 L50.23,118.31 L50.45,118.93 L50.67,119.55 L50.89,120.17 L51.11,120.79 L51.33,121.42 L51.55,122.04 L51.77,122.67 L52.00,123.29 L52.22,123.92 L52.44,124.55 L52.66,125.17 L52.88,125.80 L53.10,126.43 L53.32,127.06 L53.55,127.69 L53.77,128.32 L53.99,128.94 L54.21,129.57 L54.43,130.20 L54.65,130.83 L54.88,131.46 L55.10,132.09 L55.32,132.73 L55.54,133.36 L55.76,133.99 L55.98,134.62 L56.20,135.25 L56.42,135.88 L56.64,136.51 L56.86,137.14 L57.08,137.78 L57.30,138.41 L57.52,139.04 L57.74,139.67 L57.96,140.30 L58.17,140.93 L58.39,141.56 L58.61,142.20 L58.82,142.83 L59.04,143.46 L59.25,144.09 L59.47,144.72 L59.68,145.35 L59.89,145.98 L60.11,146.61 L60.32,147.24 L60.53,147.87 L60.74,148.50 L60.95,149.12 L61.16,149.75 L61.36,150.38 L61.57,151.01 L61.78,151.63 L61.98,152.26 L62.19,152.89 L62.39,153.51 L62.59,154.14 L62.79,154.76 L62.99,155.39 L63.19,156.01 L63.39,156.63 L63.59,157.25 L63.78,157.88 L63.98,158.50 L64.17,159.12 L64.36,159.74 L64.55,160.36 L64.74,160.97 L64.93,161.59 L65.12,162.21 L65.30,162.83 L65.49,163.44 L65.67,164.06 L65.86,164.67 L66.04,165.29 L66.22,165.90 L66.39,166.52 L66.57,167.14 L66.75,167.75 L66.92,168.37 L67.10,168.98 L67.27,169.60 L67.44,170.22 L67.61,170.84 L67.78,171.45 L67.95,172.07 L68.12,172.69 L68.28,173.32 L68.44,173.94 L68.61,174.56 L68.77,175.18 L68.93,175.81 L69.09,176.44 L69.25,177.07 L69.41,177.69 L69.56,178.33 L69.72,178.96 L69.87,179.59 L70.02,180.23 L70.17,180.87 L70.33,181.51 L70.47,182.15 L70.62,182.79 L70.77,183.44 L70.92,184.09 L71.06,184.74 L71.20,185.39 L71.35,186.05 L71.49,186.71 L71.63,187.37 L71.77,188.03 L71.90,188.70 L72.04,189.37 L72.18,190.04 L72.31,190.72 L72.44,191.40 L72.58,192.08 L72.71,192.77 L72.84,193.46 L72.97,194.15 L73.09,194.84 L73.22,195.54 L73.35,196.25 L73.48,196.94 L73.63,197.64 L73.78,198.33 L73.95,199.00 L74.14,199.67 L74.35,200.31 L74.59,200.94 L74.86,201.54 L75.17,202.11 L75.51,202.66 L75.89,203.18 L76.32,203.65 L76.80,204.09 L77.31,204.48 L77.85,204.79 L78.41,205.02 L78.98,205.14 L79.55,205.15 L80.10,205.04 L80.62,204.84 L81.10,204.54 L81.53,204.16 L81.90,203.72 L82.22,203.22 L82.48,202.66 L82.70,202.06 L82.89,201.41 L83.04,200.73 L83.16,200.02 L83.26,199.29 L83.35,198.54 L83.43,197.78 L83.50,197.02 L83.57,196.26 L83.65,195.51 L83.74,194.78 L83.85,194.06 L83.97,193.37 L84.11,192.68 L84.25,192.02 L84.41,191.36 L84.57,190.72 L84.74,190.09 L84.92,189.47 L85.10,188.85 L85.28,188.24 L85.47,187.63 L85.65,187.03 L85.83,186.42 L86.00,185.82 L86.18,185.21 L86.34,184.60 L86.49,183.98 L86.64,183.36 L86.79,182.73 L86.92,182.10 L87.06,181.47 L87.18,180.83 L87.30,180.20 L87.42,179.55 L87.53,178.91 L87.64,178.26 L87.75,177.61 L87.86,176.96 L87.96,176.31 L88.06,175.66 L88.16,175.00 L88.26,174.35 L88.36,173.69 L88.46,173.03 L88.56,172.37 L88.66,171.72 L88.76,171.06 L88.87,170.40 L88.98,169.75 L89.09,169.09 L89.20,168.44 L89.31,167.79 L89.43,167.13 L89.55,166.48 L89.67,165.83 L89.79,165.18 L89.92,164.53 L90.05,163.89 L90.18,163.24 L90.31,162.59 L90.44,161.94 L90.58,161.30 L90.71,160.65 L90.85,160.01 L90.99,159.37 L91.13,158.72 L91.27,158.08 L91.42,157.44 L91.56,156.79 L91.71,156.15 L91.85,155.51 L92.00,154.87 L92.15,154.23 L92.30,153.59 L92.45,152.95 L92.60,152.31 L92.75,151.67 L92.91,151.03 L93.06,150.39 L93.21,149.75 L93.37,149.12 L93.52,148.48 L93.67,147.84 L93.83,147.20 L93.98,146.56 L94.14,145.93 L94.29,145.29 L94.44,144.65 L94.60,144.01 L94.75,143.37 L94.90,142.74 L95.06,142.10 L95.21,141.46 L95.36,140.82 L95.51,140.18 L95.66,139.55 L95.81,138.91 L95.96,138.27 L96.10,137.63 L96.25,136.99 L96.40,136.35 L96.54,135.71 L96.69,135.07 L96.83,134.43 L96.97,133.79 L97.11,133.15 L97.26,132.51 L97.40,131.87 L97.54,131.23 L97.68,130.58 L97.82,129.94 L97.96,129.30 L98.10,128.66 L98.23,128.02 L98.37,127.38 L98.51,126.73 L98.65,126.09 L98.79,125.45 L98.92,124.81 L99.06,124.16 L99.20,123.52 L99.34,122.88 L99.47,122.23 L99.61,121.59 L99.75,120.95 L99.88,120.30 L100.02,119.66 L100.16,119.02 L100.30,118.37 L100.43,117.73 L100.57,117.09 L100.71,116.44 L100.85,115.80 L100.99,115.16 L101.13,114.51 L101.27,113.87 L101.41,113.22 L101.55,112.58 L101.69,111.94 L101.83,111.29 L101.97,110.65 L102.11,110.00 L102.26,109.36 L102.40,108.72 L102.55,108.07 L102.69,107.43 L102.84,106.78 L102.98,106.14 L103.13,105.49 L103.28,104.85 L103.43,104.21 L103.58,103.56 L103.73,102.92 L103.88,102.27 L104.04,101.63 L104.19,100.99 L104.35,100.34 L104.50,99.70 L104.66,99.06 L104.82,98.41 L104.98,97.77 L105.14,97.12 L105.31,96.48 L105.47,95.84 L105.63,95.19 L105.80,94.55 L105.96,93.91 L106.13,93.27 L106.30,92.62 L106.47,91.98 L106.64,91.34 L106.81,90.70 L106.98,90.05 L107.15,89.41 L107.33,88.77 L107.50,88.13 L107.68,87.49 L107.85,86.85 L108.03,86.21 L108.21,85.57 L108.38,84.93 L108.56,84.29 L108.74,83.65 L108.92,83.01 L109.10,82.37 L109.28,81.73 L109.46,81.09 L109.65,80.45 L109.83,79.81 L110.01,79.18 L110.20,78.54 L110.38,77.90 L110.56,77.27 L110.75,76.63 L110.94,75.99 L111.12,75.36 L111.31,74.72 L111.49,74.09 L111.68,73.45 L111.87,72.82 L112.06,72.19 L112.24,71.55 L112.43,70.92 L112.62,70.29 L112.81,69.66 L113.00,69.03 L113.19,68.40 L113.38,67.77 L113.56,67.14 L113.75,66.51 L113.94,65.88 L114.13,65.25 L114.32,64.62 L114.51,64.00 L114.70,63.37 L114.89,62.74 L115.08,62.12 L115.27,61.49 L115.46,60.87 L115.65,60.25 L115.84,59.62 L116.03,59.00 L116.22,58.38 L116.40,57.76 L116.59,57.14 L116.78,56.52 L116.97,55.90 L117.16,55.28 L117.34,54.66 L117.53,54.04 L117.72,53.43 L117.91,52.81 L118.10,52.19 L118.29,51.58 L118.49,50.97 L118.69,50.35 L118.89,49.74 L119.09,49.13 L119.30,48.52 L119.52,47.90 L119.74,47.29 L119.96,46.68 L120.20,46.08 L120.43,45.47 L120.68,44.86 L120.93,44.25 L121.20,43.65 L121.47,43.04 L121.75,42.43 L122.04,41.83 L122.34,41.22 L122.65,40.62 L122.97,40.02 L123.30,39.41 L123.64,38.81 L124.00,38.21 L124.37,37.61 L124.76,37.01 L125.15,36.41 L125.56,35.81 L125.99,35.22 L126.43,34.63 L126.88,34.05 L127.34,33.49 L127.81,32.94 L128.29,32.40 L128.78,31.89 L129.28,31.41 L129.79,30.95 L130.30,30.52 L130.83,30.12 L131.35,29.76 L131.89,29.43 L132.42,29.14 L132.97,28.90 L133.51,28.71 L134.06,28.56 L134.61,28.46 L135.16,28.42 L135.72,28.44 L136.27,28.51 L136.82,28.64 L137.37,28.82 L137.92,29.05 L138.47,29.32 L139.01,29.63 L139.55,29.97 L140.08,30.36 L140.61,30.77 L141.14,31.21 L141.65,31.68 L142.16,32.16 L142.66,32.67 L143.15,33.19 L143.64,33.72 L144.11,34.25 L144.57,34.80 L145.02,35.34 L145.46,35.88 L145.89,36.42 L146.30,36.95 L146.71,37.49 L147.11,38.02 L147.49,38.56 L147.87,39.09 L148.24,39.63 L148.60,40.16 L148.96,40.70 L149.31,41.24 L149.65,41.78 L149.99,42.33 L150.32,42.87 L150.65,43.43 L150.98,43.98 L151.30,44.54 L151.62,45.10 L151.93,45.67 L152.24,46.24 L152.55,46.81 L152.86,47.39 L153.16,47.97 L153.46,48.55 L153.75,49.14 L154.05,49.72 L154.34,50.31 L154.62,50.91 L154.91,51.50 L155.19,52.10 L155.47,52.70 L155.75,53.30 L156.03,53.91 L156.30,54.51 L156.57,55.12 L156.84,55.73 L157.11,56.34 L157.38,56.95 L157.65,57.57 L157.91,58.18 L158.17,58.80 L158.43,59.41 L158.69,60.03 L158.95,60.65 L159.21,61.27 L159.47,61.89 L159.73,62.51 L159.98,63.14 L160.24,63.76 L160.49,64.38 L160.75,65.00 L161.00,65.63 L161.26,66.25 L161.51,66.87 L161.76,67.49 L162.02,68.11 L162.27,68.73 L162.53,69.35 L162.78,69.97 L163.04,70.59 L163.30,71.21 L163.55,71.83 L163.81,72.44 L164.07,73.06 L164.33,73.67 L164.59,74.28 L164.86,74.89 L165.12,75.50 L165.39,76.11 L165.65,76.72 L165.92,77.32 L166.19,77.92 L166.46,78.53 L166.73,79.13 L167.00,79.73 L167.27,80.32 L167.55,80.92 L167.82,81.51 L168.10,82.11 L168.38,82.70 L168.65,83.29 L168.93,83.88 L169.21,84.47 L169.49,85.06 L169.78,85.65 L170.06,86.24 L170.34,86.82 L170.63,87.41 L170.91,87.99 L171.20,88.58 L171.49,89.16 L171.78,89.74 L172.07,90.32 L172.36,90.90 L172.65,91.48 L172.94,92.06 L173.23,92.64 L173.52,93.21 L173.82,93.79 L174.11,94.37 L174.40,94.94 L174.70,95.52 L175.00,96.09 L175.29,96.67 L175.59,97.24 L175.89,97.82 L176.18,98.39 L176.48,98.96 L176.78,99.54 L177.08,100.11 L177.38,100.68 L177.68,101.25 L177.99,101.83 L178.29,102.40 L178.59,102.97 L178.89,103.54 L179.19,104.12 L179.50,104.69 L179.80,105.26 L180.10,105.83 L180.41,106.40 L180.71,106.98 L181.02,107.55 L181.32,108.12 L181.63,108.69 L181.93,109.27 L182.24,109.84 L182.54,110.42 L182.85,110.99 L183.16,111.56 L183.46,112.14 L183.77,112.72 L184.08,113.29 L184.38,113.87 L184.69,114.44 L184.99,115.02 L185.30,115.60 L185.61,116.18 L185.91,116.76 L186.22,117.34 L186.53,117.92 L186.83,118.50 L187.14,119.08 L187.45,119.67 L187.75,120.25 L188.06,120.84 L188.37,121.42 L188.67,122.01 L188.98,122.59 L189.28,123.18 L189.59,123.77 L189.90,124.36 L190.20,124.95 L190.51,125.54 L190.82,126.13 L191.12,126.72 L191.43,127.31 L191.74,127.90 L192.05,128.49 L192.35,129.08 L192.66,129.68 L192.97,130.27 L193.28,130.86 L193.59,131.45 L193.90,132.05 L194.21,132.64 L194.52,133.23 L194.83,133.83 L195.14,134.42 L195.45,135.02 L195.76,135.61 L196.07,136.20 L196.38,136.80 L196.70,137.39 L197.01,137.99 L197.32,138.58 L197.64,139.18 L197.95,139.77 L198.27,140.36 L198.58,140.96 L198.90,141.55 L199.22,142.14 L199.54,142.74 L199.85,143.33 L200.17,143.92 L200.49,144.51 L200.81,145.11 L201.13,145.70 L201.46,146.29 L201.78,146.88 L202.10,147.47 L202.43,148.06 L202.75,148.65 L203.08,149.24 L203.41,149.83 L203.73,150.41 L204.06,151.00 L204.39,151.59 L204.72,152.17 L205.05,152.76 L205.39,153.34 L205.72,153.93 L206.06,154.51 L206.39,155.09 L206.73,155.67 L207.07,156.25 L207.40,156.83 L207.74,157.41 L208.08,157.99 L208.43,158.57 L208.77,159.14 L209.11,159.72 L209.46,160.29 L209.81,160.87 L210.15,161.44 L210.50,162.01 L210.85,162.58 L211.21,163.15 L211.56,163.72 L211.91,164.28 L212.27,164.85 L212.63,165.41 L212.98,165.98 L213.34,166.54 L213.70,167.10 L214.07,167.66 L214.43,168.22 L214.80,168.77 L215.16,169.33 L215.53,169.88 L215.90,170.43 L216.27,170.98 L216.65,171.53 L217.02,172.08 L217.40,172.63 L217.77,173.17 L218.15,173.71 L218.53,174.25 L218.92,174.79 L219.30,175.33 L219.69,175.87 L220.07,176.40 L220.46,176.93 L220.85,177.46 L221.25,177.99 L221.64,178.52 L222.04,179.05 L222.44,179.57 L222.84,180.09 L223.24,180.61 L223.64,181.13 L224.05,181.64 L224.45,182.16 L224.86,182.67 L225.28,183.18 L225.69,183.69 L226.10,184.19 L226.52,184.70 L226.94,185.20 L227.36,185.70 L227.79,186.19 L228.21,186.69 L228.64,187.18 L229.07,187.67 L229.50,188.16 L229.93,188.64 L230.37,189.12 L230.81,189.60 L231.25,190.08 L231.69,190.56 L232.14,191.03 L232.58,191.50 L233.03,191.97 L233.48,192.43 L233.94,192.90 L234.39,193.36 L234.85,193.82 L235.31,194.27 L235.78,194.72 L236.24,195.17 L236.71,195.62 L237.18,196.06 L237.65,196.51 L238.13,196.94 L238.61,197.38 L239.09,197.81 L239.57,198.24 L240.06,198.67 L240.54,199.10 L241.03,199.52 L241.53,199.94 L242.02,200.35 L242.52,200.76 L243.02,201.17 L243.53,201.58 L244.03,201.98 L244.54,202.38 L245.05,202.78 L245.57,203.17 L246.08,203.56 L246.60,203.95 L247.13,204.33 L247.65,204.72 L248.18,205.09 L248.71,205.47 L249.24,205.84 L249.78,206.21 L250.32,206.58 L250.86,206.94 L251.40,207.30 L251.94,207.66 L252.49,208.01 L253.04,208.36 L253.59,208.71 L254.15,209.06 L254.70,209.40 L255.26,209.74 L255.82,210.07 L256.38,210.41 L256.95,210.74 L257.51,211.07 L258.08,211.40 L258.65,211.72 L259.23,212.04 L259.80,212.36 L260.38,212.67 L260.96,212.99 L261.54,213.30 L262.12,213.61 L262.70,213.91 L263.29,214.21 L263.88,214.51 L264.47,214.81 L265.06,215.11 L265.65,215.40 L266.25,215.69 L266.84,215.98 L267.44,216.26 L268.04,216.55 L268.64,216.83 L269.24,217.11 L269.84,217.38 L270.45,217.66 L271.06,217.93 L271.66,218.20 L272.27,218.47 L272.88,218.73 L273.49,218.99 L274.11,219.25 L274.72,219.51 L275.33,219.77 L275.95,220.02 L276.57,220.28 L277.19,220.53 L277.81,220.78 L278.43,221.02 L279.05,221.27 L279.67,221.51 L280.29,221.75 L280.92,221.99 L281.54,222.22 L282.17,222.46 L282.79,222.69 L283.42,222.92 L284.05,223.15 L284.68,223.38 L285.31,223.61 L285.94,223.83 L286.57,224.05 L287.20,224.27 L287.83,224.49 L288.46,224.71 L289.10,224.92 L289.73,225.14 L290.37,225.35 L291.00,225.56 L291.63,225.77 L292.27,225.98 L292.90,226.18 L293.54,226.39 L294.18,226.59 L294.81,226.79 L295.45,226.99 L296.09,227.19 L296.72,227.38 L297.36,227.58 L298.00,227.77 L298.63,227.97 L299.27,228.16 L299.91,228.35 L300.54,228.54 L301.18,228.73 L301.82,228.91 L302.45,229.10 L303.09,229.28 L303.73,229.46 L304.36,229.65 L305.00,229.83 L305.63,230.01 L306.27,230.18 L306.90,230.36 L307.54,230.54 L308.17,230.71 L308.81,230.89 L309.44,231.06 L310.07,231.23 L310.71,231.40 L311.34,231.57 L311.97,231.74 L312.60,231.91 L313.23,232.08 L313.86,232.24 L314.49,232.41 L315.11,232.57 L315.74,232.74 L316.37,232.90 L316.99,233.06 L317.62,233.23 L318.24,233.39 L318.86,233.55 L319.49,233.71 L320.11,233.87 L320.73,234.02 L321.35,234.18 L321.96,234.34 L322.58,234.50" stroke="#ff00ff"/>
</g>
<g class="tl">
<text x="66.90" y="270.7" text-anchor="middle">300</text>
<text x="118.40" y="270.7" text-anchor="middle">400</text>
<text x="170.30" y="270.7" text-anchor="middle">500</text>
<text x="221.90" y="270.7" text-anchor="middle">600</text>
<text x="273.90" y="270.7" text-anchor="middle">700</text>
<text x="321.90" y="270.7" text-anchor="middle">800</text>
<text x="31.8" y="185.10" text-anchor="end">1</text>
<text x="31.8" y="114.40" text-anchor="end">2</text>
<text x="31.8" y="42.00" text-anchor="end">3</text>
</g>
<line x1="263" y1="19.90" x2="288.8" y2="19.90" stroke="#000000" stroke-width="3" stroke-linecap="round"/>
<text x="339.2" y="24.40" text-anchor="end" class="lg">20min</text>
<line x1="263" y1="35.85" x2="288.8" y2="35.85" stroke="#ff0000" stroke-width="3" stroke-linecap="round"/>
<text x="339.2" y="40.35" text-anchor="end" class="lg">80min</text>
<line x1="263" y1="51.80" x2="288.8" y2="51.80" stroke="#0000ff" stroke-width="3" stroke-linecap="round"/>
<text x="339.2" y="56.30" text-anchor="end" class="lg">40min</text>
<line x1="263" y1="67.75" x2="288.8" y2="67.75" stroke="#008080" stroke-width="3" stroke-linecap="round"/>
<text x="339.2" y="72.25" text-anchor="end" class="lg">60min</text>
<line x1="263" y1="83.70" x2="288.8" y2="83.70" stroke="#ff00ff" stroke-width="3" stroke-linecap="round"/>
<text x="339.2" y="88.20" text-anchor="end" class="lg">100min</text>
<text x="120.2" y="293.9" style="font-size:16.6px;font-weight:bold;fill:#000">Wavelength (nm)</text>
<text transform="translate(12.2,187.7) rotate(-90)" style="font-size:14.85px;font-weight:bold;fill:#000">Absorbance (a.u.)</text>
</svg>
</body></html>
